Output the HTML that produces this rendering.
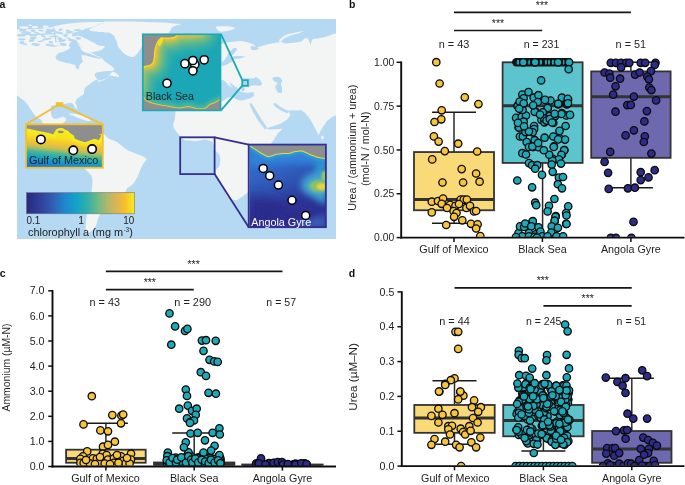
<!DOCTYPE html>
<html><head><meta charset="utf-8"><style>
html,body{margin:0;padding:0;background:#fff;}
svg{display:block;font-family:"Liberation Sans", sans-serif;}
text{opacity:0.995;}
</style></head><body>
<svg width="685" height="485" viewBox="0 0 685 485">
<defs><filter id="bl6" x="-50%" y="-50%" width="200%" height="200%"><feGaussianBlur stdDeviation="6"/></filter><filter id="bl3" x="-50%" y="-50%" width="200%" height="200%"><feGaussianBlur stdDeviation="3"/></filter><filter id="bl15" x="-50%" y="-50%" width="200%" height="200%"><feGaussianBlur stdDeviation="1.5"/></filter><filter id="bl08" x="-50%" y="-50%" width="200%" height="200%"><feGaussianBlur stdDeviation="0.8"/></filter><filter id="bl25" x="-50%" y="-50%" width="200%" height="200%"><feGaussianBlur stdDeviation="2.5"/></filter><filter id="bl2" x="-50%" y="-50%" width="200%" height="200%"><feGaussianBlur stdDeviation="2"/></filter><filter id="bl12" x="-50%" y="-50%" width="200%" height="200%"><feGaussianBlur stdDeviation="1.2"/></filter><filter id="bl05" x="-50%" y="-50%" width="200%" height="200%"><feGaussianBlur stdDeviation="0.5"/></filter><clipPath id="bsclip"><rect x="142.8" y="34.3" width="77.5" height="76"/></clipPath><linearGradient id="bsg" gradientUnits="userSpaceOnUse" x1="158.5" y1="51.5" x2="183.2" y2="76.2"><stop offset="0" stop-color="#F7DC20"/><stop offset="0.1" stop-color="#F6CF29"/><stop offset="0.2" stop-color="#EEC238"/><stop offset="0.32" stop-color="#C6BE57"/><stop offset="0.43" stop-color="#93BF6E"/><stop offset="0.6" stop-color="#52B494"/><stop offset="0.8" stop-color="#26A9B1"/><stop offset="1" stop-color="#1DA6B6"/></linearGradient><linearGradient id="gomg" gradientUnits="userSpaceOnUse" x1="62" y1="127" x2="57.5" y2="168.7"><stop offset="0" stop-color="#F7EA1C"/><stop offset="0.26" stop-color="#F6E21F"/><stop offset="0.38" stop-color="#F4C92B"/><stop offset="0.5" stop-color="#DABF45"/><stop offset="0.57" stop-color="#9FBE66"/><stop offset="0.63" stop-color="#5EB68D"/><stop offset="0.7" stop-color="#2FAEA8"/><stop offset="0.78" stop-color="#19A5C0"/><stop offset="0.87" stop-color="#1A8FCE"/><stop offset="1" stop-color="#2474CB"/></linearGradient><clipPath id="gomclip"><rect x="26" y="124.4" width="77" height="43.3"/></clipPath><linearGradient id="angg" x1="0" y1="0" x2="0.35" y2="1"><stop offset="0" stop-color="#3377D3"/><stop offset="0.35" stop-color="#3066C6"/><stop offset="0.6" stop-color="#2E50B0"/><stop offset="0.8" stop-color="#2D3597"/><stop offset="1" stop-color="#2C3092"/></linearGradient><clipPath id="angclip"><rect x="249.6" y="145.5" width="76.2" height="81.8"/></clipPath><linearGradient id="cbar" x1="0" y1="0" x2="1" y2="0"><stop offset="0" stop-color="#29287F"/><stop offset="0.13" stop-color="#30409C"/><stop offset="0.25" stop-color="#3160B4"/><stop offset="0.36" stop-color="#1E88CF"/><stop offset="0.47" stop-color="#12A4C6"/><stop offset="0.57" stop-color="#35B0A6"/><stop offset="0.66" stop-color="#6FBA86"/><stop offset="0.75" stop-color="#B0B86A"/><stop offset="0.83" stop-color="#DAB456"/><stop offset="0.91" stop-color="#F7BF2B"/><stop offset="1" stop-color="#F7EE18"/></linearGradient></defs>
<rect width="685" height="485" fill="#fff"/>
<text x="-0.60" y="7.70" font-size="10.5" fill="#111" text-anchor="start" font-weight="bold" >a</text>
<clipPath id="mapclip"><rect x="17" y="19" width="319" height="220"/></clipPath>
<g clip-path="url(#mapclip)">
<rect x="17" y="19" width="319" height="220" fill="#B5D9F3"/>
<path d="M17.0,45.0 L24.0,44.5 L32.0,45.5 L40.0,45.0 L48.0,46.0 L54.0,47.0 L58.0,46.0 L63.0,45.0 L68.0,44.0 L72.0,43.0 L76.0,43.5 L80.0,45.0 L82.0,48.0 L86.0,51.0 L92.0,53.0 L97.0,56.0 L101.5,57.0 L104.0,60.8 L109.2,64.5 L113.6,67.4 L114.3,69.6 L112.1,71.4 L110.0,73.0 L108.5,77.5 L104.0,80.0 L99.0,82.0 L96.8,79.6 L92.3,82.1 L89.8,84.2 L85.6,87.1 L84.0,90.4 L84.0,94.1 L80.7,96.2 L78.2,97.8 L76.2,99.9 L75.3,102.8 L77.0,106.5 L77.4,109.4 L74.9,107.8 L73.3,104.0 L70.8,102.8 L66.0,103.5 L63.0,104.5 L60.0,105.4 L54.0,105.2 L51.5,105.8 L50.6,109.0 L50.8,113.0 L52.0,117.0 L54.5,119.0 L58.0,118.5 L61.0,117.2 L63.2,116.4 L66.1,118.2 L65.5,121.0 L62.0,124.0 L57.0,126.0 L52.0,128.0 L48.0,130.0 L44.0,128.0 L41.3,120.0 L37.0,117.5 L34.0,114.2 L31.0,110.0 L27.0,106.0 L23.8,101.1 L20.5,98.0 L17.9,96.0 L17.0,95.5 Z" fill="#F3F4F4" />
<path d="M48.0,128.0 L55.0,126.0 L62.0,124.0 L70.0,130.0 L80.0,134.0 L90.0,133.0 L92.0,138.0 L86.0,140.0 L80.0,138.0 L72.0,135.0 L62.0,132.0 L52.0,131.0 Z" fill="#F3F4F4" />
<path d="M17.0,30.5 C18.3,27.8 22.0,29.8 25.0,29.5 C28.0,29.2 31.7,29.2 35.0,29.0 C38.3,28.8 42.0,28.6 45.0,28.2 C48.0,27.8 50.5,27.2 53.0,26.7 C55.5,26.2 57.2,25.5 60.0,25.0 C62.8,24.5 66.7,24.0 70.0,23.6 C73.3,23.2 76.3,22.9 80.0,22.6 C83.7,22.4 88.1,22.2 92.0,22.1 C95.9,22.1 102.2,22.0 103.5,22.3 C104.8,22.6 101.5,23.1 100.0,23.8 C98.5,24.5 96.7,25.7 94.4,26.5 C92.2,27.3 88.9,27.7 86.5,28.5 C84.1,29.3 81.9,30.4 80.0,31.1 C78.1,31.8 76.3,32.0 75.0,32.5 C73.7,33.0 72.3,33.2 72.0,34.0 C71.7,34.8 72.3,36.0 73.0,37.0 C73.7,38.0 75.5,38.8 76.0,40.0 C76.5,41.2 77.0,43.2 76.0,44.0 C75.0,44.8 76.0,44.7 70.0,45.0 C64.0,45.3 48.8,45.8 40.0,46.0 C31.2,46.2 20.8,48.6 17.0,46.0 C13.2,43.4 15.7,33.2 17.0,30.5 Z" fill="#F3F4F4" />
<ellipse cx="24" cy="27.6" rx="4.5" ry="1.3" fill="#F3F4F4"/>
<ellipse cx="35" cy="27.2" rx="3.2" ry="1.1" fill="#F3F4F4"/>
<ellipse cx="45.5" cy="26.6" rx="3" ry="1.2" fill="#F3F4F4"/>
<ellipse cx="30" cy="25.3" rx="2" ry="0.8" fill="#F3F4F4"/>
<path d="M76.0,35.0 C77.5,35.0 80.0,36.2 82.0,37.0 C84.0,37.8 85.8,38.7 87.9,39.7 C90.0,40.7 92.6,42.0 94.4,43.0 C96.2,44.0 97.3,44.9 99.0,45.5 C100.7,46.1 104.4,45.7 104.8,46.4 C105.2,47.1 103.0,48.9 101.5,49.7 C100.0,50.6 98.2,51.0 96.0,51.5 C93.8,52.0 90.5,52.8 88.3,52.5 C86.1,52.2 84.1,51.0 83.0,50.0 C81.9,49.0 82.3,47.7 81.5,46.5 C80.7,45.3 79.1,44.1 78.0,43.0 C76.9,41.9 75.8,41.0 75.0,40.0 C74.2,39.0 72.8,37.8 73.0,37.0 C73.2,36.2 74.5,35.0 76.0,35.0 Z" fill="#F3F4F4" />
<path d="M104.5,21.6 C106.3,21.4 110.8,21.4 115.0,21.4 C119.2,21.4 125.0,21.5 130.0,21.6 C135.0,21.7 139.4,21.8 145.0,22.0 C150.6,22.2 158.9,22.4 163.6,22.6 C168.3,22.9 170.1,23.2 173.0,23.5 C175.9,23.8 180.6,23.9 181.1,24.3 C181.6,24.7 177.5,25.1 176.0,25.6 C174.5,26.1 172.9,26.8 172.0,27.5 C171.1,28.2 171.2,29.2 170.5,30.1 C169.8,31.0 170.1,32.1 168.0,33.1 C165.9,34.1 161.0,34.9 158.0,36.0 C155.0,37.1 152.3,38.7 150.0,40.0 C147.7,41.3 145.5,42.7 144.0,44.0 C142.5,45.3 141.7,47.0 141.0,48.0 C140.3,49.0 140.5,49.3 139.8,50.3 C139.1,51.3 137.9,53.0 136.9,54.1 C135.9,55.2 134.8,56.5 133.6,56.9 C132.4,57.3 131.1,56.9 129.6,56.4 C128.1,55.9 126.1,55.0 124.7,54.0 C123.3,53.0 122.1,51.5 121.0,50.2 C119.9,49.0 118.5,47.7 117.9,46.5 C117.3,45.3 117.6,44.1 117.2,42.8 C116.8,41.5 115.9,39.9 115.4,38.8 C114.9,37.7 115.0,36.9 114.2,36.0 C113.4,35.1 112.0,33.8 110.5,33.2 C109.0,32.6 106.8,32.7 105.0,32.5 C103.2,32.3 102.0,32.3 99.7,32.1 C97.4,31.9 93.0,31.5 91.2,31.1 C89.5,30.7 88.9,30.1 89.2,29.5 C89.5,28.9 91.6,28.0 93.0,27.3 C94.4,26.6 96.3,25.8 97.7,25.2 C99.1,24.6 100.4,23.9 101.5,23.5 C102.6,23.1 103.8,22.9 104.3,22.6 C104.8,22.3 102.7,21.8 104.5,21.6 Z" fill="#F3F4F4" />
<path d="M92.0,133.0 C93.8,131.5 96.2,133.1 98.0,133.2 C99.8,133.3 101.2,132.6 103.0,133.5 C104.8,134.4 106.8,137.5 109.0,138.8 C111.2,140.2 114.0,140.4 116.2,141.6 C118.4,142.8 120.0,144.6 121.9,146.0 C123.8,147.4 125.5,149.1 127.7,150.3 C129.9,151.5 132.8,152.4 134.9,153.2 C137.0,154.0 138.6,154.4 140.0,155.0 C141.4,155.6 142.5,156.1 143.6,156.8 C144.7,157.5 146.2,158.3 146.5,159.0 C146.8,159.7 146.0,160.3 145.5,161.0 C145.0,161.7 144.4,162.0 143.6,163.3 C142.8,164.6 141.7,166.8 140.7,169.0 C139.7,171.2 138.8,174.3 137.8,176.3 C136.9,178.3 135.7,179.8 135.0,181.0 C134.3,182.2 134.2,182.7 133.5,183.5 C132.8,184.3 131.7,185.2 130.6,186.0 C129.5,186.8 127.8,187.5 127.0,188.5 C126.2,189.5 126.3,190.4 125.5,192.0 C124.7,193.6 123.8,196.2 122.0,198.0 C120.2,199.8 117.0,201.5 115.0,203.0 C113.0,204.5 111.8,205.7 110.0,207.0 C108.2,208.3 105.6,209.8 104.0,211.0 C102.4,212.2 101.5,212.7 100.5,214.0 C99.5,215.3 98.7,217.2 98.0,219.0 C97.3,220.8 97.0,223.3 96.3,225.0 C95.5,226.7 94.5,227.8 93.5,229.0 C92.5,230.2 91.0,231.3 90.0,232.0 C89.0,232.7 88.2,233.3 87.5,233.0 C86.8,232.7 86.1,231.3 85.8,230.0 C85.5,228.7 85.6,227.7 85.8,225.0 C86.0,222.3 86.4,217.3 87.0,214.0 C87.6,210.7 88.7,209.0 89.5,205.0 C90.3,201.0 91.2,193.8 91.7,190.0 C92.2,186.2 92.4,184.3 92.4,182.0 C92.4,179.7 92.3,178.0 91.6,176.3 C90.9,174.6 89.2,173.4 88.0,172.0 C86.8,170.6 85.4,170.0 84.4,168.0 C83.4,166.0 82.1,163.0 82.0,160.0 C81.9,157.0 83.2,153.0 84.0,150.0 C84.8,147.0 85.7,144.8 87.0,142.0 C88.3,139.2 90.2,134.5 92.0,133.0 Z" fill="#F3F4F4" />
<path d="M168.0,33.1 L190.0,36.0 L210.0,40.0 L221.0,43.9 L229.7,42.1 L235.0,41.5 L241.4,41.0 L246.0,42.0 L250.7,43.3 L254.0,45.0 L256.5,47.4 L258.5,47.0 L261.2,46.2 L267.0,44.4 L272.9,43.3 L281.0,42.1 L286.0,43.5 L291.3,43.1 L296.0,42.5 L301.5,41.4 L304.0,39.0 L307.2,37.4 L309.0,41.0 L310.6,45.4 L311.5,41.0 L312.9,39.1 L318.0,38.5 L323.1,37.4 L328.0,36.0 L333.3,34.0 L336.0,33.4 L337.0,33.4 L337.0,115.4 L336.0,115.4 L332.0,116.9 L327.0,121.0 L323.2,126.4 L320.5,131.0 L318.8,135.1 L316.5,131.0 L313.0,124.2 L310.0,119.0 L307.2,115.4 L304.0,112.0 L301.3,110.3 L296.0,110.6 L291.1,110.3 L289.0,111.5 L290.4,115.4 L286.7,119.8 L280.9,123.5 L273.0,126.2 L265.5,128.6 L270.0,129.5 L276.0,129.3 L282.3,128.8 L280.0,131.5 L278.0,133.0 L275.5,137.0 L273.6,140.3 L270.0,145.0 L262.0,150.0 L255.0,160.0 L250.0,175.0 L249.0,190.0 L247.4,192.7 L242.0,197.0 L236.6,200.3 L231.2,199.2 L226.9,194.9 L221.5,184.0 L218.0,179.0 L215.5,174.0 L216.0,170.0 L219.5,166.0 L220.4,160.0 L219.5,155.0 L217.0,152.0 L213.8,149.6 L213.5,145.0 L212.0,141.5 L209.0,140.5 L205.0,139.6 L200.0,140.6 L195.0,141.2 L190.0,140.4 L185.0,140.2 L182.0,138.0 L180.0,136.0 L178.8,134.4 L176.0,131.5 L174.9,129.8 L173.5,127.0 L173.1,125.2 L173.8,122.0 L174.9,118.7 L175.5,111.0 L170.0,105.0 L160.0,95.0 L145.0,75.0 L142.0,60.0 L150.0,45.0 Z" fill="#F3F4F4" />
<path d="M279.0,40.5 C279.2,39.8 280.9,38.4 282.0,37.5 C283.1,36.6 284.4,35.7 285.7,35.1 C287.0,34.5 288.7,34.2 290.0,33.8 C291.3,33.4 292.3,33.2 293.6,32.9 C294.9,32.6 296.3,32.3 298.0,32.0 C299.7,31.7 303.5,31.1 303.8,31.2 C304.1,31.3 301.6,32.2 300.0,32.8 C298.4,33.4 296.0,34.0 294.0,34.6 C292.0,35.2 289.8,35.9 288.0,36.6 C286.2,37.3 284.8,38.1 283.5,39.0 C282.2,39.9 281.2,41.8 280.5,42.0 C279.8,42.2 278.8,41.2 279.0,40.5 Z" fill="#F3F4F4" />
<path d="M216.0,27.0 C216.3,26.1 219.7,26.3 222.0,26.2 C224.3,26.1 227.8,26.3 230.0,26.6 C232.2,26.9 235.3,27.5 235.0,28.2 C234.7,28.9 230.5,30.3 228.0,30.8 C225.5,31.3 222.0,32.0 220.0,31.4 C218.0,30.8 215.7,27.9 216.0,27.0 Z" fill="#F3F4F4" />
<path d="M321.5,136.0 C321.8,135.6 323.2,136.0 323.5,136.5 C323.8,137.0 323.8,138.6 323.5,139.0 C323.2,139.4 321.8,139.5 321.5,139.0 C321.2,138.5 321.2,136.4 321.5,136.0 Z" fill="#F3F4F4" />
<path d="M55.5,56.3 L58.8,53.0 L64.2,51.4 L68.6,49.2 L71.9,46.4 L76.5,45.0 L79.5,45.8 L80.5,48.5 L82.8,51.4 L88.0,53.3 L93.8,55.2 L99.3,57.4 L101.5,56.0 L102.5,58.0 L99.0,58.8 L93.0,57.5 L86.0,55.4 L81.5,55.0 L81.8,58.5 L82.8,61.8 L79.6,65.0 L78.5,69.4 L76.3,68.6 L75.2,65.0 L70.0,63.5 L66.4,62.9 L59.9,61.2 L56.0,59.0 Z" fill="#B5D9F3" />
<path d="M69.0,45.0 C69.1,44.1 70.1,42.7 71.0,42.0 C71.9,41.3 73.4,40.8 74.5,41.0 C75.6,41.2 76.8,42.2 77.5,43.0 C78.2,43.8 78.6,45.1 78.5,46.0 C78.4,46.9 77.8,48.0 77.0,48.5 C76.2,49.0 74.6,49.2 73.5,49.0 C72.4,48.8 71.2,48.2 70.5,47.5 C69.8,46.8 68.9,45.9 69.0,45.0 Z" fill="#B5D9F3" />
<path d="M96.8,72.5 C98.2,71.9 101.1,71.8 103.0,71.5 C104.9,71.2 106.5,71.0 108.0,71.0 C109.5,71.0 111.8,70.9 112.1,71.4 C112.4,71.9 110.7,73.0 110.0,74.0 C109.3,75.0 109.2,76.6 108.0,77.5 C106.8,78.4 104.5,79.0 103.0,79.5 C101.5,80.0 100.1,80.8 99.0,80.5 C97.9,80.2 97.2,78.9 96.5,78.0 C95.8,77.1 94.5,75.9 94.5,75.0 C94.5,74.1 95.4,73.1 96.8,72.5 Z" fill="#B5D9F3" />
<path d="M21.0,99.0 L23.8,100.3 L28.0,105.0 L32.5,112.7 L31.5,113.2 L26.5,106.5 L22.5,101.5 Z" fill="#B5D9F3" />
<path d="M233.5,48.3 C234.6,47.9 236.8,48.1 237.0,48.8 C237.2,49.5 236.0,51.3 235.0,52.5 C234.0,53.7 232.2,55.2 231.0,56.0 C229.8,56.8 228.1,57.8 227.5,57.5 C226.9,57.2 227.0,55.6 227.5,54.5 C228.0,53.4 229.5,52.0 230.5,51.0 C231.5,50.0 232.4,48.7 233.5,48.3 Z" fill="#B5D9F3" />
<path d="M233.0,56.5 C233.8,56.0 237.0,56.0 239.0,56.0 C241.0,56.0 244.8,56.4 245.0,56.8 C245.2,57.2 241.8,58.1 240.0,58.4 C238.2,58.7 235.2,59.1 234.0,58.8 C232.8,58.5 232.2,57.0 233.0,56.5 Z" fill="#B5D9F3" />
<path d="M227.0,56.5 C228.0,56.2 229.8,57.2 231.0,57.5 C232.2,57.8 234.2,57.9 234.5,58.5 C234.8,59.1 233.8,60.2 233.0,61.0 C232.2,61.8 230.9,62.2 229.5,63.0 C228.1,63.8 225.8,65.1 224.5,65.5 C223.2,65.9 221.9,66.0 221.5,65.5 C221.1,65.0 221.4,63.5 222.0,62.5 C222.6,61.5 224.2,60.5 225.0,59.5 C225.8,58.5 226.0,56.8 227.0,56.5 Z" fill="#B5D9F3" />
<path d="M250.7,46.5 C251.2,46.0 253.6,46.3 255.0,46.6 C256.4,46.9 258.7,47.9 258.9,48.5 C259.1,49.1 257.1,49.8 256.0,50.0 C254.8,50.2 252.9,50.3 252.0,49.7 C251.1,49.1 250.2,47.0 250.7,46.5 Z" fill="#B5D9F3" />
<path d="M242.0,79.0 C243.1,77.7 247.5,78.4 249.3,78.3 C251.1,78.2 251.7,78.6 253.0,78.5 C254.3,78.4 255.7,76.8 257.2,77.5 C258.7,78.2 261.4,81.6 261.9,83.0 C262.4,84.4 261.7,85.3 260.3,85.7 C258.9,86.1 255.1,85.2 253.3,85.3 C251.5,85.4 251.0,86.4 249.3,86.5 C247.6,86.6 244.2,87.2 243.0,86.0 C241.8,84.8 240.9,80.3 242.0,79.0 Z" fill="#B5D9F3" />
<path d="M272.5,78.0 C272.8,77.3 274.8,77.0 276.0,76.9 C277.2,76.8 279.0,76.8 280.0,77.5 C281.0,78.2 282.0,79.9 282.2,81.0 C282.4,82.1 281.0,82.8 281.0,84.0 C281.0,85.2 281.9,86.5 282.0,88.0 C282.1,89.5 282.2,92.0 281.5,92.7 C280.8,93.5 278.9,93.1 278.0,92.5 C277.1,91.9 276.4,90.1 276.0,89.0 C275.6,87.9 275.2,87.0 275.5,86.0 C275.8,85.0 277.8,83.8 277.5,83.0 C277.2,82.2 274.8,81.8 274.0,81.0 C273.2,80.2 272.2,78.7 272.5,78.0 Z" fill="#B5D9F3" />
<path d="M221.0,81.0 C221.8,78.0 224.5,81.4 225.8,82.2 C227.1,83.0 227.7,84.8 229.0,85.7 C230.3,86.6 232.4,87.4 233.7,87.7 C235.0,88.0 236.0,86.9 236.8,87.3 C237.6,87.7 237.6,89.2 238.4,90.0 C239.2,90.8 239.9,91.5 241.5,92.0 C243.1,92.5 245.8,92.7 247.8,92.8 C249.8,92.9 252.3,92.0 253.3,92.4 C254.3,92.9 254.4,94.6 254.0,95.5 C253.6,96.4 252.3,97.2 250.9,97.9 C249.5,98.6 247.1,99.0 245.4,99.4 C243.7,99.9 242.3,100.7 240.7,100.6 C239.1,100.5 237.6,99.6 236.0,99.0 C234.4,98.4 232.7,97.3 231.3,97.1 C229.9,96.9 228.7,97.4 227.4,97.9 C226.1,98.4 224.6,99.9 223.5,100.2 C222.4,100.5 221.4,103.2 221.0,100.0 C220.6,96.8 220.2,84.0 221.0,81.0 Z" fill="#B5D9F3" />
<path d="M230.0,82.5 L234.0,85.5 L236.5,88.0 L234.0,88.5 L230.5,85.5 Z" fill="#B5D9F3" />
<path d="M241.0,86.0 C241.3,85.2 243.4,85.8 244.0,86.5 C244.6,87.2 244.8,89.2 244.5,90.0 C244.2,90.8 242.6,91.7 242.0,91.0 C241.4,90.3 240.7,86.8 241.0,86.0 Z" fill="#B5D9F3" />
<path d="M249.2,103.6 L251.6,103.2 L255.8,110.0 L261.0,118.5 L267.0,127.5 L265.0,129.5 L258.0,120.5 L252.8,111.5 Z" fill="#B5D9F3" />
<path d="M273.0,103.5 L276.0,103.2 L280.0,106.5 L285.3,109.5 L290.0,111.0 L287.5,113.2 L284.0,112.0 L279.0,109.5 L275.0,106.5 Z" fill="#B5D9F3" />
<ellipse cx="22.5" cy="30.2" rx="3.7" ry="1.4" transform="rotate(-1 22.5 30.2)" fill="#B5D9F3"/>
<ellipse cx="33.1" cy="30.7" rx="2.6" ry="1.2" transform="rotate(4 33.1 30.7)" fill="#B5D9F3"/>
<ellipse cx="40.9" cy="30.5" rx="2.9" ry="0.9" transform="rotate(9 40.9 30.5)" fill="#B5D9F3"/>
<ellipse cx="50.9" cy="30.4" rx="4.9" ry="1.5" transform="rotate(5 50.9 30.4)" fill="#B5D9F3"/>
<ellipse cx="60.6" cy="29.7" rx="2.0" ry="1.2" transform="rotate(-13 60.6 29.7)" fill="#B5D9F3"/>
<ellipse cx="67.7" cy="30.7" rx="2.1" ry="1.1" transform="rotate(-2 67.7 30.7)" fill="#B5D9F3"/>
<ellipse cx="77.7" cy="30.1" rx="3.9" ry="1.1" transform="rotate(5 77.7 30.1)" fill="#B5D9F3"/>
<ellipse cx="26.0" cy="32.7" rx="5.0" ry="1.4" transform="rotate(6 26.0 32.7)" fill="#B5D9F3"/>
<ellipse cx="36.8" cy="32.8" rx="2.9" ry="0.8" transform="rotate(8 36.8 32.8)" fill="#B5D9F3"/>
<ellipse cx="48.2" cy="32.2" rx="3.2" ry="1.5" transform="rotate(10 48.2 32.2)" fill="#B5D9F3"/>
<ellipse cx="58.9" cy="32.8" rx="4.7" ry="1.1" transform="rotate(14 58.9 32.8)" fill="#B5D9F3"/>
<ellipse cx="69.8" cy="32.3" rx="3.9" ry="1.3" transform="rotate(-7 69.8 32.3)" fill="#B5D9F3"/>
<ellipse cx="81.9" cy="32.6" rx="4.9" ry="1.3" transform="rotate(-11 81.9 32.6)" fill="#B5D9F3"/>
<ellipse cx="21.6" cy="35.7" rx="4.4" ry="0.9" transform="rotate(2 21.6 35.7)" fill="#B5D9F3"/>
<ellipse cx="33.0" cy="35.2" rx="4.2" ry="0.9" transform="rotate(4 33.0 35.2)" fill="#B5D9F3"/>
<ellipse cx="43.5" cy="36.3" rx="2.6" ry="1.0" transform="rotate(14 43.5 36.3)" fill="#B5D9F3"/>
<ellipse cx="54.0" cy="36.4" rx="4.7" ry="0.9" transform="rotate(-3 54.0 36.4)" fill="#B5D9F3"/>
<ellipse cx="65.5" cy="35.4" rx="2.3" ry="1.5" transform="rotate(-9 65.5 35.4)" fill="#B5D9F3"/>
<ellipse cx="75.9" cy="35.1" rx="3.0" ry="1.0" transform="rotate(-13 75.9 35.1)" fill="#B5D9F3"/>
<ellipse cx="21.8" cy="39.3" rx="3.8" ry="1.1" transform="rotate(-1 21.8 39.3)" fill="#B5D9F3"/>
<ellipse cx="33.2" cy="38.0" rx="3.7" ry="1.4" transform="rotate(-10 33.2 38.0)" fill="#B5D9F3"/>
<ellipse cx="47.0" cy="39.0" rx="4.5" ry="1.0" transform="rotate(-9 47.0 39.0)" fill="#B5D9F3"/>
<ellipse cx="59.9" cy="38.8" rx="2.6" ry="1.5" transform="rotate(11 59.9 38.8)" fill="#B5D9F3"/>
<ellipse cx="68.4" cy="38.2" rx="2.3" ry="0.8" transform="rotate(14 68.4 38.2)" fill="#B5D9F3"/>
<ellipse cx="78.3" cy="38.3" rx="2.8" ry="1.4" transform="rotate(3 78.3 38.3)" fill="#B5D9F3"/>
<ellipse cx="22.1" cy="42.0" rx="2.2" ry="1.0" transform="rotate(2 22.1 42.0)" fill="#B5D9F3"/>
<ellipse cx="31.6" cy="40.6" rx="2.8" ry="1.4" transform="rotate(-9 31.6 40.6)" fill="#B5D9F3"/>
<ellipse cx="40.8" cy="41.2" rx="3.3" ry="0.8" transform="rotate(-10 40.8 41.2)" fill="#B5D9F3"/>
<ellipse cx="50.9" cy="42.2" rx="2.4" ry="1.1" transform="rotate(12 50.9 42.2)" fill="#B5D9F3"/>
<ellipse cx="62.0" cy="40.7" rx="4.1" ry="1.2" transform="rotate(-11 62.0 40.7)" fill="#B5D9F3"/>
<ellipse cx="72.8" cy="40.6" rx="4.7" ry="1.3" transform="rotate(14 72.8 40.6)" fill="#B5D9F3"/>
<ellipse cx="23.1" cy="43.6" rx="4.2" ry="1.0" transform="rotate(15 23.1 43.6)" fill="#B5D9F3"/>
<ellipse cx="35.7" cy="44.6" rx="4.2" ry="1.4" transform="rotate(7 35.7 44.6)" fill="#B5D9F3"/>
<ellipse cx="49.8" cy="44.9" rx="4.7" ry="1.0" transform="rotate(6 49.8 44.9)" fill="#B5D9F3"/>
<ellipse cx="63.3" cy="44.4" rx="3.3" ry="1.4" transform="rotate(11 63.3 44.4)" fill="#B5D9F3"/>
<ellipse cx="74.2" cy="43.6" rx="3.1" ry="1.2" transform="rotate(3 74.2 43.6)" fill="#B5D9F3"/>
<path d="M17,34.8 L25,34.2 L35,34.6 L45,34 L55,33.5" fill="none" stroke="#B5D9F3" stroke-width="1.3" stroke-linejoin="round" stroke-linecap="round"/>
<path d="M53,27.5 L55,31 L54.5,34 L55.5,38 L56,42" fill="none" stroke="#B5D9F3" stroke-width="1.4" stroke-linejoin="round" stroke-linecap="round"/>
<path d="M109.9,75.4 C109.5,74.7 111.5,71.9 112.8,71.8 C114.1,71.7 117.0,73.8 118.0,74.7 C119.0,75.6 119.5,76.7 119.0,76.9 C118.5,77.2 116.5,76.5 115.0,76.2 C113.5,76.0 110.3,76.1 109.9,75.4 Z" fill="#F3F4F4" />
<path d="M70.5,113.5 C71.8,113.4 75.6,113.9 78.0,114.5 C80.4,115.1 82.8,116.0 85.0,117.0 C87.2,118.0 90.4,119.5 90.9,120.2 C91.4,120.9 89.7,121.2 88.0,121.0 C86.3,120.8 83.3,119.8 81.0,119.0 C78.7,118.2 75.8,116.7 74.0,116.0 C72.2,115.3 70.6,115.4 70.0,115.0 C69.4,114.6 69.2,113.6 70.5,113.5 Z" fill="#F3F4F4" />
</g>
<line x1="221.00" y1="34.20" x2="242.30" y2="80.20" stroke="#1BAAB6" stroke-width="1.8" stroke-linecap="butt"/>
<line x1="221.00" y1="110.30" x2="242.30" y2="85.60" stroke="#1BAAB6" stroke-width="1.8" stroke-linecap="butt"/>
<rect x="242.3" y="80.2" width="5.6" height="5.6" fill="#B5D9F3" stroke="#1BAAB6" stroke-width="1.8"/>
<line x1="26.00" y1="124.30" x2="57.30" y2="105.60" stroke="#F2BF2E" stroke-width="1.8" stroke-linecap="butt"/>
<line x1="102.80" y1="124.30" x2="62.60" y2="105.60" stroke="#F2BF2E" stroke-width="1.8" stroke-linecap="butt"/>
<rect x="55.8" y="102.2" width="7.6" height="4.6" fill="#F2BF2E"/>
<rect x="180.2" y="137.3" width="34.4" height="36.8" fill="none" stroke="#362F8D" stroke-width="1.8"/>
<line x1="214.60" y1="137.30" x2="248.70" y2="144.60" stroke="#362F8D" stroke-width="1.8" stroke-linecap="butt"/>
<line x1="214.60" y1="174.10" x2="248.70" y2="227.20" stroke="#362F8D" stroke-width="1.8" stroke-linecap="butt"/>
<g clip-path="url(#bsclip)">
<rect x="142" y="33.5" width="79.3" height="77.7" fill="#1BA7B6"/>
<path d="M111.0,43.3 L107.0,46.1 L103.7,50.2 L101.7,54.9 L101.0,60.0 L101.0,98.0 L101.6,102.9 L103.5,107.5 L106.6,111.4 L110.5,114.5 L115.1,116.4 L120.0,117.0 L136.0,117.0 L140.5,116.5 L144.8,114.8 L148.6,112.2 L151.6,108.8 L153.7,104.8 L154.9,100.4 L155.8,92.6 L157.3,82.8 L157.4,82.1 L160.4,80.7 L163.9,77.9 L165.9,75.9 L168.7,72.4 L170.6,68.3 L171.4,65.8 L172.1,62.5 L172.5,59.5 L172.6,58.4 L172.8,56.3 L173.5,56.3 L177.8,55.5 L182.9,53.7 L184.7,52.4 L190.8,52.2 L192.4,52.0 L203.4,50.6 L208.2,49.4 L212.5,46.9 L216.0,43.5 L218.5,39.2 L223.5,27.4 L224.8,22.9 L224.9,18.3 L223.9,13.7 L221.8,9.5 L218.8,6.0 L215.0,3.3 L210.6,1.6 L206.0,1.0 L130.0,1.0 L125.1,1.6 L120.5,3.5 L116.6,6.6 L113.5,10.5 L111.6,15.1 L111.0,20.0 L111.0,43.3 Z " fill="#2FADAA" filter="url(#bl25)"/>
<path d="M116.0,46.7 L113.5,47.6 L110.4,49.8 L108.0,52.7 L106.5,56.2 L106.0,60.0 L106.0,98.0 L106.5,101.6 L107.9,105.0 L110.1,107.9 L113.0,110.1 L116.4,111.5 L120.0,112.0 L136.0,112.0 L139.3,111.6 L142.5,110.4 L145.3,108.5 L147.5,106.0 L149.1,103.0 L149.9,99.7 L150.9,91.9 L152.3,82.1 L152.5,81.1 L152.7,78.5 L154.8,77.8 L157.8,76.5 L160.4,74.4 L162.4,72.4 L164.5,69.8 L165.8,66.8 L166.6,64.3 L167.2,61.9 L167.6,58.9 L167.7,58.0 L167.9,54.2 L168.1,52.3 L168.3,51.6 L170.0,51.6 L172.6,51.4 L176.9,50.6 L180.6,49.3 L183.2,47.5 L190.6,47.2 L191.8,47.1 L202.8,45.7 L206.3,44.8 L209.5,43.0 L212.0,40.4 L213.9,37.3 L218.9,25.5 L219.8,22.2 L219.9,18.7 L219.2,15.4 L217.7,12.3 L215.4,9.7 L212.6,7.7 L209.4,6.4 L206.0,6.0 L130.0,6.0 L126.4,6.5 L123.0,7.9 L120.1,10.1 L117.9,13.0 L116.5,16.4 L116.0,20.0 L116.0,46.7 Z " fill="#4DB496" filter="url(#bl2)"/>
<path d="M120.5,50.5 L118.0,50.7 L115.6,51.6 L113.5,53.1 L111.9,55.1 L110.9,57.4 L110.5,60.0 L110.5,98.0 L110.8,100.5 L111.8,102.8 L113.3,104.7 L115.2,106.2 L117.5,107.2 L120.0,107.5 L136.0,107.5 L138.3,107.2 L140.4,106.4 L142.3,105.1 L143.8,103.4 L144.9,101.4 L145.4,99.2 L146.4,91.3 L147.9,81.4 L148.0,80.7 L148.4,74.9 L149.6,74.7 L150.9,74.3 L153.4,73.5 L155.4,72.6 L157.2,71.2 L159.2,69.2 L160.6,67.4 L161.5,65.4 L162.3,62.9 L162.7,61.3 L163.1,58.3 L163.2,57.7 L163.5,53.8 L163.7,51.6 L164.2,49.6 L164.8,47.6 L165.1,47.1 L170.0,47.1 L171.7,46.9 L176.0,46.1 L178.6,45.3 L180.8,43.7 L181.5,43.1 L190.4,42.7 L191.2,42.6 L202.2,41.2 L204.6,40.6 L206.7,39.4 L208.5,37.6 L209.7,35.5 L214.7,23.7 L215.4,21.5 L215.5,19.1 L215.0,16.8 L213.9,14.8 L212.4,13.0 L210.5,11.6 L208.3,10.8 L206.0,10.5 L130.0,10.5 L127.5,10.8 L125.2,11.8 L123.3,13.3 L121.8,15.2 L120.8,17.5 L120.5,20.0 L120.5,50.5 Z " fill="#80BD78" filter="url(#bl2)"/>
<path d="M130.0,14.5 L128.6,14.7 L127.2,15.2 L126.1,16.1 L125.2,17.2 L124.7,18.6 L124.5,20.0 L124.5,55.7 L121.8,54.8 L120.3,54.5 L118.9,54.6 L117.5,55.1 L116.2,56.0 L115.3,57.2 L114.7,58.5 L114.5,60.0 L114.5,98.0 L114.7,99.4 L115.2,100.8 L116.1,101.9 L117.2,102.8 L118.6,103.3 L120.0,103.5 L136.0,103.5 L137.3,103.3 L138.6,102.9 L139.6,102.1 L140.5,101.1 L141.1,100.0 L141.5,98.7 L142.4,90.7 L143.9,80.8 L144.0,80.4 L144.6,71.7 L146.3,71.2 L148.9,70.7 L149.7,70.5 L152.2,69.7 L153.4,69.2 L154.4,68.4 L156.4,66.4 L157.2,65.4 L157.7,64.2 L158.5,61.7 L158.8,60.7 L159.2,57.7 L159.2,57.4 L159.5,53.5 L159.7,50.9 L160.3,48.5 L161.1,46.1 L162.2,44.0 L162.9,43.1 L163.0,43.1 L170.0,43.1 L171.0,43.0 L175.3,42.2 L176.8,41.7 L178.1,40.8 L179.8,39.2 L179.8,39.1 L190.2,38.7 L190.7,38.7 L201.7,37.3 L203.1,36.9 L204.3,36.2 L205.3,35.2 L206.1,33.9 L211.1,22.1 L211.4,20.8 L211.5,19.5 L211.2,18.2 L210.6,17.0 L209.7,15.9 L208.6,15.2 L207.3,14.7 L206.0,14.5 L130.0,14.5 Z " fill="#B9BF58" filter="url(#bl15)"/>
<path d="M130.0,17.0 L129.2,17.1 L128.5,17.4 L127.9,17.9 L127.4,18.5 L127.1,19.2 L127.0,20.0 L127.0,59.3 L121.0,57.2 L120.2,57.0 L119.4,57.1 L118.6,57.3 L117.9,57.8 L117.4,58.4 L117.1,59.2 L117.0,60.0 L117.0,98.0 L117.1,98.8 L117.4,99.5 L117.9,100.1 L118.5,100.6 L119.2,100.9 L120.0,101.0 L136.0,101.0 L136.7,100.9 L137.4,100.7 L138.0,100.2 L138.5,99.7 L138.8,99.1 L139.0,98.4 L140.0,90.4 L141.5,80.4 L141.5,80.2 L142.3,69.8 L142.9,69.6 L145.7,68.7 L148.5,68.3 L148.9,68.2 L151.4,67.4 L152.1,67.1 L152.6,66.6 L154.6,64.6 L155.1,64.1 L155.4,63.4 L156.2,60.9 L156.3,60.4 L156.7,57.4 L156.7,57.2 L157.0,53.3 L157.3,50.5 L157.9,47.8 L158.8,45.2 L160.0,42.6 L161.7,40.6 L161.9,40.4 L162.0,40.4 L163.0,40.6 L170.0,40.6 L170.5,40.5 L174.8,39.7 L175.7,39.5 L176.4,39.0 L178.1,37.4 L178.6,36.8 L178.6,36.7 L190.1,36.2 L190.4,36.2 L201.4,34.8 L202.1,34.6 L202.8,34.2 L203.4,33.6 L203.8,33.0 L208.8,21.2 L209.0,20.5 L209.0,19.7 L208.8,19.0 L208.5,18.3 L208.0,17.8 L207.4,17.4 L206.7,17.1 L206.0,17.0 L130.0,17.0 Z " fill="#E5BE40" filter="url(#bl12)"/>
<path d="M130.0,18.6 L129.6,18.6 L129.3,18.8 L129.0,19.0 L128.8,19.3 L128.6,19.6 L128.6,20.0 L128.6,61.5 L120.5,58.7 L120.1,58.6 L119.7,58.6 L119.4,58.8 L119.0,59.0 L118.8,59.3 L118.7,59.6 L118.6,60.0 L118.6,98.0 L118.6,98.4 L118.8,98.7 L119.0,99.0 L119.3,99.2 L119.6,99.4 L120.0,99.4 L136.0,99.4 L136.3,99.4 L136.6,99.2 L136.9,99.0 L137.2,98.8 L137.3,98.5 L137.4,98.2 L138.4,90.2 L139.9,80.2 L139.9,80.1 L140.8,68.2 L142.0,68.2 L142.4,68.1 L145.3,67.2 L148.2,66.7 L148.4,66.6 L150.9,65.8 L151.2,65.7 L151.5,65.5 L153.5,63.5 L153.7,63.2 L153.8,62.9 L154.6,60.4 L154.7,60.2 L155.1,57.2 L155.1,57.1 L155.4,53.1 L155.7,50.2 L156.3,47.4 L157.3,44.5 L158.7,41.8 L160.5,39.5 L161.6,38.6 L162.5,38.9 L163.0,39.0 L170.0,39.0 L170.3,39.0 L174.6,38.2 L174.9,38.0 L175.3,37.8 L177.0,36.2 L177.2,35.9 L177.3,35.6 L177.4,35.2 L177.4,35.1 L190.1,34.6 L190.2,34.6 L201.2,33.2 L201.5,33.1 L201.8,32.9 L202.1,32.7 L202.3,32.3 L207.3,20.5 L207.4,20.2 L207.4,19.9 L207.3,19.5 L207.2,19.2 L206.9,19.0 L206.7,18.8 L206.3,18.6 L206.0,18.6 L130.0,18.6 Z " fill="#F2D52B" filter="url(#bl05)"/>
<path d="M176,35.2 L174.3,36.8 L170,37.6 L163,37.6 L161.3,37 L159.5,38.5 L157.5,41 L156,44 L155,47 L154.3,50 L154,53 L153.7,57 L153.3,60 L152.5,62.5 L150.5,64.5 L148,65.3 L145,65.8 L142,66.8" fill="none" stroke="#F6DC24" stroke-width="1.4" filter="url(#bl05)"/>
<path d="M142,95.3 L144,96.1 L145,98.1 L148,99.8 L152,101.3 L157,102.5 L162,103.6 L166,104.1 L170,104.8 L175,105.7 L180,106.3 L185,105.3 L188,104.8 L192,105.6 L196,106.8 L200,107.1 L204,106.8 L207,105.8 L208.5,103.8 L211,102.3 L214,101.3 L217,99.8 L219,98.3 L221.5,96.8" fill="none" stroke="#4CB49A" stroke-width="4.5" filter="url(#bl15)"/>
<path d="M142,97.5 L144,98.3 L145,100.3 L148,102 L152,103.5 L157,104.7 L162,105.8 L166,106.3 L170,107 L175,107.9 L180,108.5 L185,107.5 L188,107 L192,107.8 L196,109 L200,109.3 L204,109 L207,108 L208.5,106 L211,104.5 L214,103.5 L217,102 L219,100.5 L221.5,99" fill="none" stroke="#EBC93A" stroke-width="2" filter="url(#bl05)"/>
<path d="M158.0,37.0 C158.5,35.8 160.2,36.2 161.0,36.5 C161.8,36.8 162.8,37.9 163.0,39.0 C163.2,40.1 162.5,41.8 162.0,43.0 C161.5,44.2 160.7,45.8 160.0,46.0 C159.3,46.2 158.3,45.5 158.0,44.0 C157.7,42.5 157.5,38.2 158.0,37.0 Z" fill="#F4DD22" />
<path d="M142.0,33.5 L176.0,33.5 L176.0,35.2 L174.3,36.8 L170.0,37.6 L163.0,37.6 L161.3,37.0 L159.5,38.5 L157.5,41.0 L156.0,44.0 L155.0,47.0 L154.3,50.0 L154.0,53.0 L153.7,57.0 L153.3,60.0 L152.5,62.5 L150.5,64.5 L148.0,65.3 L145.0,65.8 L142.0,66.8 L142.0,67.0 Z" fill="#8E8E8E" />
<path d="M142.0,97.5 L144.0,98.3 L145.0,100.3 L148.0,102.0 L152.0,103.5 L157.0,104.7 L162.0,105.8 L166.0,106.3 L170.0,107.0 L175.0,107.9 L180.0,108.5 L185.0,107.5 L188.0,107.0 L192.0,107.8 L196.0,109.0 L200.0,109.3 L204.0,109.0 L207.0,108.0 L208.5,106.0 L211.0,104.5 L214.0,103.5 L217.0,102.0 L219.0,100.5 L221.5,99.0 L221.5,112.0 L142.0,112.0 Z" fill="#8E8E8E" />
</g>
<circle cx="194.80" cy="64.50" r="4.1" fill="white" stroke="#000" stroke-width="1.5"/>
<circle cx="184.90" cy="63.70" r="4.1" fill="white" stroke="#000" stroke-width="1.5"/>
<circle cx="192.90" cy="60.50" r="4.1" fill="white" stroke="#000" stroke-width="1.5"/>
<circle cx="204.20" cy="59.80" r="4.1" fill="white" stroke="#000" stroke-width="1.5"/>
<circle cx="192.90" cy="70.80" r="4.1" fill="white" stroke="#000" stroke-width="1.5"/>
<circle cx="167.00" cy="83.30" r="4.1" fill="white" stroke="#000" stroke-width="1.5"/>
<text x="145.80" y="99.60" font-size="10.5" fill="#242424" text-anchor="start" textLength="48.2" lengthAdjust="spacingAndGlyphs" >Black Sea</text>
<rect x="142.8" y="34.3" width="77.7" height="76.1" fill="none" stroke="#1BAAB6" stroke-width="1.7"/>
<g clip-path="url(#gomclip)">
<rect x="26" y="124.4" width="77" height="43.3" fill="url(#gomg)"/>
<path d="M101.8,134 L98.9,134.3 L101.2,135.4 L98.9,140 L94.3,138.8 L89.8,140.5 L85.2,142.2 L80.7,141.1 L75,138.8 L73.8,135.4 L70,133 L68.1,130.8 L65,129.5 L62.4,128 L59,128 L56,129.5 L53.3,134.3 L48.8,133.1 L37.4,130.8 L30,129 L27,128.6" fill="none" stroke="#F7EA1A" stroke-width="7" filter="url(#bl15)"/>
<path d="M26.0,124.0 L103.0,124.0 L101.8,134.0 L98.9,134.3 L101.2,135.4 L98.9,140.0 L94.3,138.8 L89.8,140.5 L85.2,142.2 L80.7,141.1 L75.0,138.8 L73.8,135.4 L70.0,133.0 L68.1,130.8 L65.0,129.5 L62.4,128.0 L59.0,128.0 L56.0,129.5 L53.3,134.3 L48.8,133.1 L37.4,130.8 L30.0,129.0 L27.0,128.6 L26.0,128.6 Z" fill="#8E8E8E" />
<path d="M57.5,131.0 L61.0,130.6 L64.0,131.5 L63.0,133.0 L59.0,133.2 Z" fill="#8E8E8E" />
</g>
<circle cx="40.90" cy="139.40" r="4.2" fill="white" stroke="#000" stroke-width="1.6"/>
<circle cx="73.30" cy="150.30" r="4.2" fill="white" stroke="#000" stroke-width="1.6"/>
<circle cx="92.10" cy="149.10" r="4.2" fill="white" stroke="#000" stroke-width="1.6"/>
<text x="29.10" y="164.30" font-size="10.7" fill="#1d1f24" text-anchor="start" textLength="69.2" lengthAdjust="spacingAndGlyphs" >Gulf of Mexico</text>
<rect x="26" y="124.4" width="76.8" height="43.3" fill="none" stroke="#F2BF2E" stroke-width="1.8"/>
<g clip-path="url(#angclip)">
<rect x="249" y="144" width="78" height="84" fill="url(#angg)"/>
<path d="M249.0,195.0 L275.0,200.0 L300.0,215.0 L326.0,218.0 L326.0,228.0 L249.0,228.0 Z" fill="#2B2B8B" filter="url(#bl6)"/>
<path d="M300.0,222.0 L326.0,214.0 L326.0,228.0 L296.0,228.0 Z" fill="#3A5DB8" filter="url(#bl3)"/>
<path d="M249.0,146.0 L326.0,146.0 L326.0,166.0 L300.0,163.0 L275.0,164.0 L249.0,166.0 Z" fill="#3282D8" filter="url(#bl3)"/>
<path d="M318.0,160.0 L326.0,158.0 L326.0,205.0 L316.0,200.0 L312.0,190.0 L314.0,175.0 Z" fill="#2F98D2" filter="url(#bl3)"/>
<ellipse cx="317" cy="185" rx="16" ry="12" fill="#3FA3D2" filter="url(#bl3)"/>
<ellipse cx="319" cy="186" rx="10" ry="6.5" fill="#86C16C" filter="url(#bl15)"/>
<ellipse cx="321.5" cy="186.5" rx="5" ry="3.2" fill="#F0D232" filter="url(#bl08)"/>
<ellipse cx="324" cy="176" rx="2.5" ry="5" fill="#9CC95E" filter="url(#bl08)"/>
<path d="M249.8,145 L253,147.5 L257.3,150 L260.5,152.3 L263.9,154.1 L268,156.2 L272,155.3 L276,153.8 L283,153 L289,153 L294.2,151.2 L301.6,150.3 L306,152 L310,154 L317.4,156.8 L323,157.7 L327,158" fill="none" stroke="#2CA0D8" stroke-width="6" filter="url(#bl15)"/>
<path d="M249.8,145 L253,147.5 L257.3,150 L260.5,152.3 L263.9,154.1 L268,156.2 L272,155.3 L276,153.8 L283,153 L289,153 L294.2,151.2 L301.6,150.3 L306,152 L310,154 L317.4,156.8 L323,157.7 L327,158" fill="none" stroke="#E2DC3C" stroke-width="2" filter="url(#bl05)"/>
<path d="M249.0,144.0 L327.0,144.0 L327.0,158.0 L323.0,157.7 L317.4,156.8 L310.0,154.0 L306.0,152.0 L301.6,150.3 L294.2,151.2 L289.0,153.0 L283.0,153.0 L276.0,153.8 L272.0,155.3 L268.0,156.2 L263.9,154.1 L260.5,152.3 L257.3,150.0 L253.0,147.5 L249.8,145.0 Z" fill="#8E8E8E" />
</g>
<circle cx="263.20" cy="168.40" r="4.0" fill="white" stroke="#000" stroke-width="1.5"/>
<circle cx="269.70" cy="175.70" r="4.0" fill="white" stroke="#000" stroke-width="1.5"/>
<circle cx="278.40" cy="185.10" r="4.0" fill="white" stroke="#000" stroke-width="1.5"/>
<circle cx="292.00" cy="200.30" r="4.0" fill="white" stroke="#000" stroke-width="1.5"/>
<circle cx="305.70" cy="215.50" r="4.0" fill="white" stroke="#000" stroke-width="1.5"/>
<rect x="248.7" y="144.6" width="77.2" height="82.6" fill="none" stroke="#362F8D" stroke-width="1.8"/>
<text x="251.20" y="225.90" font-size="10.7" fill="#ffffff" text-anchor="start" textLength="60" lengthAdjust="spacingAndGlyphs" >Angola Gyre</text>
<rect x="26.4" y="192.6" width="108.2" height="21.2" fill="url(#cbar)" stroke="#777" stroke-width="0.6"/>
<text x="26.50" y="223.80" font-size="10.4" fill="#1e1e1e" text-anchor="start" textLength="13.8" lengthAdjust="spacingAndGlyphs" >0.1</text>
<text x="81.20" y="223.80" font-size="10.4" fill="#1e1e1e" text-anchor="middle" >1</text>
<text x="134.30" y="223.80" font-size="10.4" fill="#1e1e1e" text-anchor="end" textLength="11.0" lengthAdjust="spacingAndGlyphs" >10</text>
<text x="28.0" y="235.6" font-size="10.8" fill="#1e1e1e" textLength="95.1" lengthAdjust="spacingAndGlyphs">chlorophyll a (mg m</text>
<text x="123.70" y="231.90" font-size="6.6" fill="#1e1e1e" text-anchor="start" textLength="5.3" lengthAdjust="spacingAndGlyphs" >-3</text>
<text x="129.30" y="235.60" font-size="10.8" fill="#1e1e1e" text-anchor="start" >)</text>
<text x="349.00" y="8.00" font-size="10.5" fill="#111" text-anchor="start" font-weight="bold">b</text>
<line x1="396.60" y1="62.30" x2="401.20" y2="62.30" stroke="#111" stroke-width="1.5"/>
<text x="394.30" y="65.90" font-size="10" fill="#1e1e1e" text-anchor="end" textLength="20.2" lengthAdjust="spacingAndGlyphs">1.00</text>
<line x1="396.60" y1="106.12" x2="401.20" y2="106.12" stroke="#111" stroke-width="1.5"/>
<text x="394.30" y="109.72" font-size="10" fill="#1e1e1e" text-anchor="end" textLength="20.2" lengthAdjust="spacingAndGlyphs">0.75</text>
<line x1="396.60" y1="149.95" x2="401.20" y2="149.95" stroke="#111" stroke-width="1.5"/>
<text x="394.30" y="153.55" font-size="10" fill="#1e1e1e" text-anchor="end" textLength="20.2" lengthAdjust="spacingAndGlyphs">0.50</text>
<line x1="396.60" y1="193.77" x2="401.20" y2="193.77" stroke="#111" stroke-width="1.5"/>
<text x="394.30" y="197.37" font-size="10" fill="#1e1e1e" text-anchor="end" textLength="20.2" lengthAdjust="spacingAndGlyphs">0.25</text>
<line x1="396.60" y1="237.60" x2="401.20" y2="237.60" stroke="#111" stroke-width="1.5"/>
<text x="394.30" y="241.20" font-size="10" fill="#1e1e1e" text-anchor="end" textLength="20.2" lengthAdjust="spacingAndGlyphs">0.00</text>
<clipPath id="clipb"><rect x="402" y="0" width="283" height="236.7"/></clipPath><g clip-path="url(#clipb)">
<line x1="454.0" y1="152.0536" x2="454.0" y2="112.2605" stroke="#2a2a2a" stroke-width="1.5"/>
<line x1="454.0" y1="210.2532" x2="454.0" y2="223.22539999999998" stroke="#2a2a2a" stroke-width="1.5"/>
<line x1="432.0" y1="112.2605" x2="476.0" y2="112.2605" stroke="#1a1a1a" stroke-width="1.5"/>
<line x1="432.0" y1="223.22539999999998" x2="476.0" y2="223.22539999999998" stroke="#1a1a1a" stroke-width="1.5"/>
<rect x="414.0" y="152.0536" width="80" height="58.199600000000004" fill="#F9D978" stroke="#333333" stroke-width="1.8"/>
<line x1="414.0" y1="199.38459999999998" x2="494.0" y2="199.38459999999998" stroke="#333333" stroke-width="3"/>
<line x1="542.6" y1="62.29999999999998" x2="542.6" y2="62.29999999999998" stroke="#2a2a2a" stroke-width="1.5"/>
<line x1="542.6" y1="162.92219999999998" x2="542.6" y2="237.6" stroke="#2a2a2a" stroke-width="1.5"/>
<line x1="542.59" y1="62.29999999999998" x2="542.61" y2="62.29999999999998" stroke="#1a1a1a" stroke-width="1.5"/>
<line x1="542.59" y1="237.6" x2="542.61" y2="237.6" stroke="#1a1a1a" stroke-width="1.5"/>
<rect x="502.6" y="62.29999999999998" width="80" height="100.62219999999999" fill="#5CC4CD" stroke="#333333" stroke-width="1.8"/>
<line x1="502.6" y1="105.77439999999999" x2="582.6" y2="105.77439999999999" stroke="#333333" stroke-width="3"/>
<line x1="630.9" y1="71.41559999999998" x2="630.9" y2="62.29999999999998" stroke="#2a2a2a" stroke-width="1.5"/>
<line x1="630.9" y1="157.83849999999998" x2="630.9" y2="187.6395" stroke="#2a2a2a" stroke-width="1.5"/>
<line x1="608.9" y1="62.29999999999998" x2="652.9" y2="62.29999999999998" stroke="#1a1a1a" stroke-width="1.5"/>
<line x1="608.9" y1="187.6395" x2="652.9" y2="187.6395" stroke="#1a1a1a" stroke-width="1.5"/>
<rect x="591.1999999999999" y="71.41559999999998" width="79.4" height="86.4229" fill="#6E68AE" stroke="#333333" stroke-width="1.8"/>
<line x1="591.1999999999999" y1="96.83409999999998" x2="670.6" y2="96.83409999999998" stroke="#333333" stroke-width="3"/>
<circle cx="436.30" cy="62.20" r="3.7" fill="#F6C53A" stroke="#0b0b0b" stroke-width="1.3"/>
<circle cx="439.60" cy="83.50" r="3.7" fill="#F6C53A" stroke="#0b0b0b" stroke-width="1.3"/>
<circle cx="464.80" cy="97.30" r="3.7" fill="#F6C53A" stroke="#0b0b0b" stroke-width="1.3"/>
<circle cx="478.40" cy="104.10" r="3.7" fill="#F6C53A" stroke="#0b0b0b" stroke-width="1.3"/>
<circle cx="441.70" cy="110.30" r="3.7" fill="#F6C53A" stroke="#0b0b0b" stroke-width="1.3"/>
<circle cx="441.30" cy="119.30" r="3.7" fill="#F6C53A" stroke="#0b0b0b" stroke-width="1.3"/>
<circle cx="434.50" cy="122.00" r="3.7" fill="#F6C53A" stroke="#0b0b0b" stroke-width="1.3"/>
<circle cx="433.90" cy="136.40" r="3.7" fill="#F6C53A" stroke="#0b0b0b" stroke-width="1.3"/>
<circle cx="438.60" cy="141.60" r="3.7" fill="#F6C53A" stroke="#0b0b0b" stroke-width="1.3"/>
<circle cx="458.20" cy="143.70" r="3.7" fill="#F6C53A" stroke="#0b0b0b" stroke-width="1.3"/>
<circle cx="444.80" cy="151.10" r="3.7" fill="#F6C53A" stroke="#0b0b0b" stroke-width="1.3"/>
<circle cx="477.20" cy="151.50" r="3.7" fill="#F6C53A" stroke="#0b0b0b" stroke-width="1.3"/>
<circle cx="432.20" cy="159.40" r="3.7" fill="#F6C53A" stroke="#0b0b0b" stroke-width="1.3"/>
<circle cx="461.70" cy="169.10" r="3.7" fill="#F6C53A" stroke="#0b0b0b" stroke-width="1.3"/>
<circle cx="476.10" cy="173.50" r="3.7" fill="#F6C53A" stroke="#0b0b0b" stroke-width="1.3"/>
<circle cx="442.50" cy="182.50" r="3.7" fill="#F6C53A" stroke="#0b0b0b" stroke-width="1.3"/>
<circle cx="463.10" cy="182.50" r="3.7" fill="#F6C53A" stroke="#0b0b0b" stroke-width="1.3"/>
<circle cx="479.60" cy="181.70" r="3.7" fill="#F6C53A" stroke="#0b0b0b" stroke-width="1.3"/>
<circle cx="431.80" cy="201.70" r="3.7" fill="#F6C53A" stroke="#0b0b0b" stroke-width="1.3"/>
<circle cx="438.00" cy="201.00" r="3.7" fill="#F6C53A" stroke="#0b0b0b" stroke-width="1.3"/>
<circle cx="443.10" cy="198.60" r="3.7" fill="#F6C53A" stroke="#0b0b0b" stroke-width="1.3"/>
<circle cx="441.70" cy="203.80" r="3.7" fill="#F6C53A" stroke="#0b0b0b" stroke-width="1.3"/>
<circle cx="450.00" cy="204.80" r="3.7" fill="#F6C53A" stroke="#0b0b0b" stroke-width="1.3"/>
<circle cx="455.50" cy="205.80" r="3.7" fill="#F6C53A" stroke="#0b0b0b" stroke-width="1.3"/>
<circle cx="460.70" cy="199.60" r="3.7" fill="#F6C53A" stroke="#0b0b0b" stroke-width="1.3"/>
<circle cx="463.80" cy="199.60" r="3.7" fill="#F6C53A" stroke="#0b0b0b" stroke-width="1.3"/>
<circle cx="466.90" cy="199.60" r="3.7" fill="#F6C53A" stroke="#0b0b0b" stroke-width="1.3"/>
<circle cx="466.40" cy="207.90" r="3.7" fill="#F6C53A" stroke="#0b0b0b" stroke-width="1.3"/>
<circle cx="470.00" cy="205.80" r="3.7" fill="#F6C53A" stroke="#0b0b0b" stroke-width="1.3"/>
<circle cx="453.50" cy="211.00" r="3.7" fill="#F6C53A" stroke="#0b0b0b" stroke-width="1.3"/>
<circle cx="456.50" cy="213.00" r="3.7" fill="#F6C53A" stroke="#0b0b0b" stroke-width="1.3"/>
<circle cx="454.10" cy="216.80" r="3.7" fill="#F6C53A" stroke="#0b0b0b" stroke-width="1.3"/>
<circle cx="474.00" cy="211.40" r="3.7" fill="#F6C53A" stroke="#0b0b0b" stroke-width="1.3"/>
<circle cx="476.10" cy="211.00" r="3.7" fill="#F6C53A" stroke="#0b0b0b" stroke-width="1.3"/>
<circle cx="431.80" cy="212.40" r="3.7" fill="#F6C53A" stroke="#0b0b0b" stroke-width="1.3"/>
<circle cx="462.30" cy="220.30" r="3.7" fill="#F6C53A" stroke="#0b0b0b" stroke-width="1.3"/>
<circle cx="446.20" cy="225.00" r="3.7" fill="#F6C53A" stroke="#0b0b0b" stroke-width="1.3"/>
<circle cx="471.00" cy="223.80" r="3.7" fill="#F6C53A" stroke="#0b0b0b" stroke-width="1.3"/>
<circle cx="477.60" cy="224.40" r="3.7" fill="#F6C53A" stroke="#0b0b0b" stroke-width="1.3"/>
<circle cx="476.10" cy="228.50" r="3.7" fill="#F6C53A" stroke="#0b0b0b" stroke-width="1.3"/>
<circle cx="480.30" cy="236.10" r="3.7" fill="#F6C53A" stroke="#0b0b0b" stroke-width="1.3"/>
<circle cx="447.00" cy="208.00" r="3.7" fill="#F6C53A" stroke="#0b0b0b" stroke-width="1.3"/>
<circle cx="459.00" cy="204.00" r="3.7" fill="#F6C53A" stroke="#0b0b0b" stroke-width="1.3"/>
<circle cx="541.10" cy="80.40" r="3.7" fill="#1DA9B8" stroke="#0b0b0b" stroke-width="1.3"/>
<circle cx="522.30" cy="94.60" r="3.7" fill="#1DA9B8" stroke="#0b0b0b" stroke-width="1.3"/>
<circle cx="523.60" cy="98.30" r="3.7" fill="#1DA9B8" stroke="#0b0b0b" stroke-width="1.3"/>
<circle cx="528.50" cy="92.10" r="3.7" fill="#1DA9B8" stroke="#0b0b0b" stroke-width="1.3"/>
<circle cx="533.70" cy="97.70" r="3.7" fill="#1DA9B8" stroke="#0b0b0b" stroke-width="1.3"/>
<circle cx="538.40" cy="95.20" r="3.7" fill="#1DA9B8" stroke="#0b0b0b" stroke-width="1.3"/>
<circle cx="537.80" cy="102.00" r="3.7" fill="#1DA9B8" stroke="#0b0b0b" stroke-width="1.3"/>
<circle cx="517.70" cy="105.70" r="3.7" fill="#1DA9B8" stroke="#0b0b0b" stroke-width="1.3"/>
<circle cx="561.90" cy="97.70" r="3.7" fill="#1DA9B8" stroke="#0b0b0b" stroke-width="1.3"/>
<circle cx="568.10" cy="99.60" r="3.7" fill="#1DA9B8" stroke="#0b0b0b" stroke-width="1.3"/>
<circle cx="558.20" cy="104.50" r="3.7" fill="#1DA9B8" stroke="#0b0b0b" stroke-width="1.3"/>
<circle cx="566.30" cy="103.90" r="3.7" fill="#1DA9B8" stroke="#0b0b0b" stroke-width="1.3"/>
<circle cx="547.70" cy="108.20" r="3.7" fill="#1DA9B8" stroke="#0b0b0b" stroke-width="1.3"/>
<circle cx="535.30" cy="111.30" r="3.7" fill="#1DA9B8" stroke="#0b0b0b" stroke-width="1.3"/>
<circle cx="517.70" cy="106.20" r="3.7" fill="#1DA9B8" stroke="#0b0b0b" stroke-width="1.3"/>
<circle cx="534.70" cy="111.80" r="3.7" fill="#1DA9B8" stroke="#0b0b0b" stroke-width="1.3"/>
<circle cx="516.10" cy="117.90" r="3.7" fill="#1DA9B8" stroke="#0b0b0b" stroke-width="1.3"/>
<circle cx="521.70" cy="116.70" r="3.7" fill="#1DA9B8" stroke="#0b0b0b" stroke-width="1.3"/>
<circle cx="526.00" cy="115.50" r="3.7" fill="#1DA9B8" stroke="#0b0b0b" stroke-width="1.3"/>
<circle cx="523.60" cy="121.70" r="3.7" fill="#1DA9B8" stroke="#0b0b0b" stroke-width="1.3"/>
<circle cx="518.60" cy="127.50" r="3.7" fill="#1DA9B8" stroke="#0b0b0b" stroke-width="1.3"/>
<circle cx="541.50" cy="119.80" r="3.7" fill="#1DA9B8" stroke="#0b0b0b" stroke-width="1.3"/>
<circle cx="544.40" cy="122.30" r="3.7" fill="#1DA9B8" stroke="#0b0b0b" stroke-width="1.3"/>
<circle cx="547.70" cy="108.00" r="3.7" fill="#1DA9B8" stroke="#0b0b0b" stroke-width="1.3"/>
<circle cx="542.70" cy="112.40" r="3.7" fill="#1DA9B8" stroke="#0b0b0b" stroke-width="1.3"/>
<circle cx="549.60" cy="116.10" r="3.7" fill="#1DA9B8" stroke="#0b0b0b" stroke-width="1.3"/>
<circle cx="555.10" cy="116.10" r="3.7" fill="#1DA9B8" stroke="#0b0b0b" stroke-width="1.3"/>
<circle cx="553.30" cy="122.90" r="3.7" fill="#1DA9B8" stroke="#0b0b0b" stroke-width="1.3"/>
<circle cx="534.10" cy="126.00" r="3.7" fill="#1DA9B8" stroke="#0b0b0b" stroke-width="1.3"/>
<circle cx="534.10" cy="129.10" r="3.7" fill="#1DA9B8" stroke="#0b0b0b" stroke-width="1.3"/>
<circle cx="558.20" cy="103.70" r="3.7" fill="#1DA9B8" stroke="#0b0b0b" stroke-width="1.3"/>
<circle cx="566.90" cy="104.30" r="3.7" fill="#1DA9B8" stroke="#0b0b0b" stroke-width="1.3"/>
<circle cx="561.90" cy="113.00" r="3.7" fill="#1DA9B8" stroke="#0b0b0b" stroke-width="1.3"/>
<circle cx="566.30" cy="115.50" r="3.7" fill="#1DA9B8" stroke="#0b0b0b" stroke-width="1.3"/>
<circle cx="570.00" cy="114.90" r="3.7" fill="#1DA9B8" stroke="#0b0b0b" stroke-width="1.3"/>
<circle cx="565.60" cy="126.00" r="3.7" fill="#1DA9B8" stroke="#0b0b0b" stroke-width="1.3"/>
<circle cx="559.50" cy="130.90" r="3.7" fill="#1DA9B8" stroke="#0b0b0b" stroke-width="1.3"/>
<circle cx="519.90" cy="136.50" r="3.7" fill="#1DA9B8" stroke="#0b0b0b" stroke-width="1.3"/>
<circle cx="522.90" cy="136.50" r="3.7" fill="#1DA9B8" stroke="#0b0b0b" stroke-width="1.3"/>
<circle cx="526.70" cy="142.10" r="3.7" fill="#1DA9B8" stroke="#0b0b0b" stroke-width="1.3"/>
<circle cx="534.70" cy="140.20" r="3.7" fill="#1DA9B8" stroke="#0b0b0b" stroke-width="1.3"/>
<circle cx="532.80" cy="147.00" r="3.7" fill="#1DA9B8" stroke="#0b0b0b" stroke-width="1.3"/>
<circle cx="544.60" cy="137.70" r="3.7" fill="#1DA9B8" stroke="#0b0b0b" stroke-width="1.3"/>
<circle cx="553.30" cy="136.50" r="3.7" fill="#1DA9B8" stroke="#0b0b0b" stroke-width="1.3"/>
<circle cx="559.50" cy="138.40" r="3.7" fill="#1DA9B8" stroke="#0b0b0b" stroke-width="1.3"/>
<circle cx="565.00" cy="139.60" r="3.7" fill="#1DA9B8" stroke="#0b0b0b" stroke-width="1.3"/>
<circle cx="553.90" cy="146.40" r="3.7" fill="#1DA9B8" stroke="#0b0b0b" stroke-width="1.3"/>
<circle cx="522.30" cy="153.20" r="3.7" fill="#1DA9B8" stroke="#0b0b0b" stroke-width="1.3"/>
<circle cx="526.00" cy="154.50" r="3.7" fill="#1DA9B8" stroke="#0b0b0b" stroke-width="1.3"/>
<circle cx="561.90" cy="154.50" r="3.7" fill="#1DA9B8" stroke="#0b0b0b" stroke-width="1.3"/>
<circle cx="564.40" cy="150.10" r="3.7" fill="#1DA9B8" stroke="#0b0b0b" stroke-width="1.3"/>
<circle cx="552.60" cy="158.80" r="3.7" fill="#1DA9B8" stroke="#0b0b0b" stroke-width="1.3"/>
<circle cx="529.00" cy="147.00" r="3.7" fill="#1DA9B8" stroke="#0b0b0b" stroke-width="1.3"/>
<circle cx="533.10" cy="147.00" r="3.7" fill="#1DA9B8" stroke="#0b0b0b" stroke-width="1.3"/>
<circle cx="553.80" cy="147.00" r="3.7" fill="#1DA9B8" stroke="#0b0b0b" stroke-width="1.3"/>
<circle cx="564.10" cy="150.20" r="3.7" fill="#1DA9B8" stroke="#0b0b0b" stroke-width="1.3"/>
<circle cx="561.40" cy="154.90" r="3.7" fill="#1DA9B8" stroke="#0b0b0b" stroke-width="1.3"/>
<circle cx="558.90" cy="159.40" r="3.7" fill="#1DA9B8" stroke="#0b0b0b" stroke-width="1.3"/>
<circle cx="552.30" cy="160.50" r="3.7" fill="#1DA9B8" stroke="#0b0b0b" stroke-width="1.3"/>
<circle cx="561.00" cy="163.60" r="3.7" fill="#1DA9B8" stroke="#0b0b0b" stroke-width="1.3"/>
<circle cx="551.70" cy="164.60" r="3.7" fill="#1DA9B8" stroke="#0b0b0b" stroke-width="1.3"/>
<circle cx="529.00" cy="163.10" r="3.7" fill="#1DA9B8" stroke="#0b0b0b" stroke-width="1.3"/>
<circle cx="532.10" cy="165.20" r="3.7" fill="#1DA9B8" stroke="#0b0b0b" stroke-width="1.3"/>
<circle cx="537.30" cy="165.20" r="3.7" fill="#1DA9B8" stroke="#0b0b0b" stroke-width="1.3"/>
<circle cx="535.20" cy="168.70" r="3.7" fill="#1DA9B8" stroke="#0b0b0b" stroke-width="1.3"/>
<circle cx="517.30" cy="180.50" r="3.7" fill="#1DA9B8" stroke="#0b0b0b" stroke-width="1.3"/>
<circle cx="532.10" cy="187.30" r="3.7" fill="#1DA9B8" stroke="#0b0b0b" stroke-width="1.3"/>
<circle cx="542.00" cy="174.90" r="3.7" fill="#1DA9B8" stroke="#0b0b0b" stroke-width="1.3"/>
<circle cx="552.70" cy="171.80" r="3.7" fill="#1DA9B8" stroke="#0b0b0b" stroke-width="1.3"/>
<circle cx="558.90" cy="177.60" r="3.7" fill="#1DA9B8" stroke="#0b0b0b" stroke-width="1.3"/>
<circle cx="563.00" cy="177.00" r="3.7" fill="#1DA9B8" stroke="#0b0b0b" stroke-width="1.3"/>
<circle cx="557.90" cy="184.20" r="3.7" fill="#1DA9B8" stroke="#0b0b0b" stroke-width="1.3"/>
<circle cx="562.00" cy="188.30" r="3.7" fill="#1DA9B8" stroke="#0b0b0b" stroke-width="1.3"/>
<circle cx="535.20" cy="202.70" r="3.7" fill="#1DA9B8" stroke="#0b0b0b" stroke-width="1.3"/>
<circle cx="536.20" cy="205.20" r="3.7" fill="#1DA9B8" stroke="#0b0b0b" stroke-width="1.3"/>
<circle cx="554.40" cy="199.00" r="3.7" fill="#1DA9B8" stroke="#0b0b0b" stroke-width="1.3"/>
<circle cx="549.00" cy="205.80" r="3.7" fill="#1DA9B8" stroke="#0b0b0b" stroke-width="1.3"/>
<circle cx="547.60" cy="211.40" r="3.7" fill="#1DA9B8" stroke="#0b0b0b" stroke-width="1.3"/>
<circle cx="568.20" cy="206.40" r="3.7" fill="#1DA9B8" stroke="#0b0b0b" stroke-width="1.3"/>
<circle cx="566.10" cy="213.00" r="3.7" fill="#1DA9B8" stroke="#0b0b0b" stroke-width="1.3"/>
<circle cx="555.80" cy="216.10" r="3.7" fill="#1DA9B8" stroke="#0b0b0b" stroke-width="1.3"/>
<circle cx="554.80" cy="220.90" r="3.7" fill="#1DA9B8" stroke="#0b0b0b" stroke-width="1.3"/>
<circle cx="566.10" cy="223.80" r="3.7" fill="#1DA9B8" stroke="#0b0b0b" stroke-width="1.3"/>
<circle cx="532.50" cy="221.70" r="3.7" fill="#1DA9B8" stroke="#0b0b0b" stroke-width="1.3"/>
<circle cx="533.16" cy="105.35" r="3.7" fill="#1DA9B8" stroke="#0b0b0b" stroke-width="1.3"/>
<circle cx="550.50" cy="100.49" r="3.7" fill="#1DA9B8" stroke="#0b0b0b" stroke-width="1.3"/>
<circle cx="544.40" cy="118.67" r="3.7" fill="#1DA9B8" stroke="#0b0b0b" stroke-width="1.3"/>
<circle cx="519.07" cy="127.46" r="3.7" fill="#1DA9B8" stroke="#0b0b0b" stroke-width="1.3"/>
<circle cx="517.99" cy="122.89" r="3.7" fill="#1DA9B8" stroke="#0b0b0b" stroke-width="1.3"/>
<circle cx="519.70" cy="101.62" r="3.7" fill="#1DA9B8" stroke="#0b0b0b" stroke-width="1.3"/>
<circle cx="538.50" cy="147.26" r="3.7" fill="#1DA9B8" stroke="#0b0b0b" stroke-width="1.3"/>
<circle cx="522.56" cy="109.84" r="3.7" fill="#1DA9B8" stroke="#0b0b0b" stroke-width="1.3"/>
<circle cx="549.25" cy="154.76" r="3.7" fill="#1DA9B8" stroke="#0b0b0b" stroke-width="1.3"/>
<circle cx="546.59" cy="120.59" r="3.7" fill="#1DA9B8" stroke="#0b0b0b" stroke-width="1.3"/>
<circle cx="567.74" cy="98.89" r="3.7" fill="#1DA9B8" stroke="#0b0b0b" stroke-width="1.3"/>
<circle cx="561.50" cy="113.96" r="3.7" fill="#1DA9B8" stroke="#0b0b0b" stroke-width="1.3"/>
<circle cx="523.65" cy="103.30" r="3.7" fill="#1DA9B8" stroke="#0b0b0b" stroke-width="1.3"/>
<circle cx="532.35" cy="146.60" r="3.7" fill="#1DA9B8" stroke="#0b0b0b" stroke-width="1.3"/>
<circle cx="525.58" cy="132.06" r="3.7" fill="#1DA9B8" stroke="#0b0b0b" stroke-width="1.3"/>
<circle cx="549.86" cy="119.09" r="3.7" fill="#1DA9B8" stroke="#0b0b0b" stroke-width="1.3"/>
<circle cx="545.03" cy="99.89" r="3.7" fill="#1DA9B8" stroke="#0b0b0b" stroke-width="1.3"/>
<circle cx="519.16" cy="108.77" r="3.7" fill="#1DA9B8" stroke="#0b0b0b" stroke-width="1.3"/>
<circle cx="552.06" cy="122.51" r="3.7" fill="#1DA9B8" stroke="#0b0b0b" stroke-width="1.3"/>
<circle cx="532.65" cy="132.30" r="3.7" fill="#1DA9B8" stroke="#0b0b0b" stroke-width="1.3"/>
<circle cx="540.02" cy="114.59" r="3.7" fill="#1DA9B8" stroke="#0b0b0b" stroke-width="1.3"/>
<circle cx="558.10" cy="139.34" r="3.7" fill="#1DA9B8" stroke="#0b0b0b" stroke-width="1.3"/>
<circle cx="528.94" cy="131.61" r="3.7" fill="#1DA9B8" stroke="#0b0b0b" stroke-width="1.3"/>
<circle cx="543.84" cy="150.26" r="3.7" fill="#1DA9B8" stroke="#0b0b0b" stroke-width="1.3"/>
<circle cx="554.66" cy="113.85" r="3.7" fill="#1DA9B8" stroke="#0b0b0b" stroke-width="1.3"/>
<circle cx="567.95" cy="103.32" r="3.7" fill="#1DA9B8" stroke="#0b0b0b" stroke-width="1.3"/>
<circle cx="538.16" cy="142.94" r="3.7" fill="#1DA9B8" stroke="#0b0b0b" stroke-width="1.3"/>
<circle cx="524.06" cy="126.32" r="3.7" fill="#1DA9B8" stroke="#0b0b0b" stroke-width="1.3"/>
<circle cx="518.50" cy="233.00" r="3.7" fill="#1DA9B8" stroke="#0b0b0b" stroke-width="1.3"/>
<circle cx="520.00" cy="226.40" r="3.7" fill="#1DA9B8" stroke="#0b0b0b" stroke-width="1.3"/>
<circle cx="524.20" cy="226.90" r="3.7" fill="#1DA9B8" stroke="#0b0b0b" stroke-width="1.3"/>
<circle cx="525.20" cy="223.50" r="3.7" fill="#1DA9B8" stroke="#0b0b0b" stroke-width="1.3"/>
<circle cx="532.80" cy="221.20" r="3.7" fill="#1DA9B8" stroke="#0b0b0b" stroke-width="1.3"/>
<circle cx="531.30" cy="226.40" r="3.7" fill="#1DA9B8" stroke="#0b0b0b" stroke-width="1.3"/>
<circle cx="538.50" cy="227.30" r="3.7" fill="#1DA9B8" stroke="#0b0b0b" stroke-width="1.3"/>
<circle cx="529.00" cy="233.00" r="3.7" fill="#1DA9B8" stroke="#0b0b0b" stroke-width="1.3"/>
<circle cx="535.60" cy="234.40" r="3.7" fill="#1DA9B8" stroke="#0b0b0b" stroke-width="1.3"/>
<circle cx="540.40" cy="231.60" r="3.7" fill="#1DA9B8" stroke="#0b0b0b" stroke-width="1.3"/>
<circle cx="522.30" cy="236.30" r="3.7" fill="#1DA9B8" stroke="#0b0b0b" stroke-width="1.3"/>
<circle cx="529.00" cy="236.30" r="3.7" fill="#1DA9B8" stroke="#0b0b0b" stroke-width="1.3"/>
<circle cx="542.30" cy="236.30" r="3.7" fill="#1DA9B8" stroke="#0b0b0b" stroke-width="1.3"/>
<circle cx="534.70" cy="236.80" r="3.7" fill="#1DA9B8" stroke="#0b0b0b" stroke-width="1.3"/>
<circle cx="555.50" cy="216.90" r="3.7" fill="#1DA9B8" stroke="#0b0b0b" stroke-width="1.3"/>
<circle cx="566.50" cy="215.50" r="3.7" fill="#1DA9B8" stroke="#0b0b0b" stroke-width="1.3"/>
<circle cx="554.60" cy="220.70" r="3.7" fill="#1DA9B8" stroke="#0b0b0b" stroke-width="1.3"/>
<circle cx="551.70" cy="226.40" r="3.7" fill="#1DA9B8" stroke="#0b0b0b" stroke-width="1.3"/>
<circle cx="557.90" cy="227.80" r="3.7" fill="#1DA9B8" stroke="#0b0b0b" stroke-width="1.3"/>
<circle cx="566.50" cy="224.00" r="3.7" fill="#1DA9B8" stroke="#0b0b0b" stroke-width="1.3"/>
<circle cx="551.30" cy="232.60" r="3.7" fill="#1DA9B8" stroke="#0b0b0b" stroke-width="1.3"/>
<circle cx="556.50" cy="236.30" r="3.7" fill="#1DA9B8" stroke="#0b0b0b" stroke-width="1.3"/>
<circle cx="563.10" cy="236.30" r="3.7" fill="#1DA9B8" stroke="#0b0b0b" stroke-width="1.3"/>
<circle cx="547.50" cy="236.30" r="3.7" fill="#1DA9B8" stroke="#0b0b0b" stroke-width="1.3"/>
<circle cx="516.00" cy="237.00" r="3.7" fill="#1DA9B8" stroke="#0b0b0b" stroke-width="1.3"/>
<circle cx="537.00" cy="237.50" r="3.7" fill="#1DA9B8" stroke="#0b0b0b" stroke-width="1.3"/>
<rect x="512.1" y="58.1" width="60.8" height="8.3" rx="4.15" fill="#111"/>
<ellipse cx="518.0" cy="62.3" rx="1.3" ry="2.7" fill="#1DA9B8"/>
<ellipse cx="529.1" cy="62.3" rx="0.9" ry="2.7" fill="#1DA9B8"/>
<ellipse cx="540.9" cy="62.3" rx="1.2" ry="2.7" fill="#1DA9B8"/>
<ellipse cx="545.9" cy="62.3" rx="1.0" ry="2.7" fill="#1DA9B8"/>
<ellipse cx="549.0" cy="62.3" rx="1.0" ry="2.7" fill="#1DA9B8"/>
<ellipse cx="553.0" cy="62.3" rx="1.2" ry="2.7" fill="#1DA9B8"/>
<ellipse cx="563.7" cy="62.3" rx="0.8" ry="2.7" fill="#1DA9B8"/>
<circle cx="523.30" cy="62.30" r="3.7" fill="#1DA9B8" stroke="#0b0b0b" stroke-width="1.3"/>
<circle cx="535.10" cy="62.30" r="3.7" fill="#1DA9B8" stroke="#0b0b0b" stroke-width="1.3"/>
<circle cx="558.10" cy="62.30" r="3.7" fill="#1DA9B8" stroke="#0b0b0b" stroke-width="1.3"/>
<circle cx="569.10" cy="62.30" r="3.7" fill="#1DA9B8" stroke="#0b0b0b" stroke-width="1.3"/>
<circle cx="568.70" cy="69.20" r="3.7" fill="#1DA9B8" stroke="#0b0b0b" stroke-width="1.3"/>
<circle cx="610.80" cy="62.80" r="3.7" fill="#2E2C89" stroke="#0b0b0b" stroke-width="1.3"/>
<circle cx="615.90" cy="62.80" r="3.7" fill="#2E2C89" stroke="#0b0b0b" stroke-width="1.3"/>
<circle cx="621.10" cy="62.80" r="3.7" fill="#2E2C89" stroke="#0b0b0b" stroke-width="1.3"/>
<circle cx="626.20" cy="62.80" r="3.7" fill="#2E2C89" stroke="#0b0b0b" stroke-width="1.3"/>
<circle cx="629.30" cy="62.80" r="3.7" fill="#2E2C89" stroke="#0b0b0b" stroke-width="1.3"/>
<circle cx="640.70" cy="62.80" r="3.7" fill="#2E2C89" stroke="#0b0b0b" stroke-width="1.3"/>
<circle cx="645.20" cy="62.80" r="3.7" fill="#2E2C89" stroke="#0b0b0b" stroke-width="1.3"/>
<circle cx="655.50" cy="62.80" r="3.7" fill="#2E2C89" stroke="#0b0b0b" stroke-width="1.3"/>
<circle cx="654.70" cy="64.90" r="3.7" fill="#2E2C89" stroke="#0b0b0b" stroke-width="1.3"/>
<circle cx="621.10" cy="67.40" r="3.7" fill="#2E2C89" stroke="#0b0b0b" stroke-width="1.3"/>
<circle cx="604.60" cy="72.50" r="3.7" fill="#2E2C89" stroke="#0b0b0b" stroke-width="1.3"/>
<circle cx="609.30" cy="73.60" r="3.7" fill="#2E2C89" stroke="#0b0b0b" stroke-width="1.3"/>
<circle cx="610.20" cy="77.70" r="3.7" fill="#2E2C89" stroke="#0b0b0b" stroke-width="1.3"/>
<circle cx="620.10" cy="78.70" r="3.7" fill="#2E2C89" stroke="#0b0b0b" stroke-width="1.3"/>
<circle cx="635.10" cy="74.60" r="3.7" fill="#2E2C89" stroke="#0b0b0b" stroke-width="1.3"/>
<circle cx="639.60" cy="72.50" r="3.7" fill="#2E2C89" stroke="#0b0b0b" stroke-width="1.3"/>
<circle cx="651.00" cy="71.10" r="3.7" fill="#2E2C89" stroke="#0b0b0b" stroke-width="1.3"/>
<circle cx="647.30" cy="76.60" r="3.7" fill="#2E2C89" stroke="#0b0b0b" stroke-width="1.3"/>
<circle cx="648.90" cy="79.30" r="3.7" fill="#2E2C89" stroke="#0b0b0b" stroke-width="1.3"/>
<circle cx="615.50" cy="86.30" r="3.7" fill="#2E2C89" stroke="#0b0b0b" stroke-width="1.3"/>
<circle cx="649.30" cy="87.60" r="3.7" fill="#2E2C89" stroke="#0b0b0b" stroke-width="1.3"/>
<circle cx="651.40" cy="90.10" r="3.7" fill="#2E2C89" stroke="#0b0b0b" stroke-width="1.3"/>
<circle cx="613.20" cy="94.60" r="3.7" fill="#2E2C89" stroke="#0b0b0b" stroke-width="1.3"/>
<circle cx="633.90" cy="96.60" r="3.7" fill="#2E2C89" stroke="#0b0b0b" stroke-width="1.3"/>
<circle cx="656.10" cy="100.40" r="3.7" fill="#2E2C89" stroke="#0b0b0b" stroke-width="1.3"/>
<circle cx="627.30" cy="105.10" r="3.7" fill="#2E2C89" stroke="#0b0b0b" stroke-width="1.3"/>
<circle cx="630.80" cy="104.90" r="3.7" fill="#2E2C89" stroke="#0b0b0b" stroke-width="1.3"/>
<circle cx="615.50" cy="111.70" r="3.7" fill="#2E2C89" stroke="#0b0b0b" stroke-width="1.3"/>
<circle cx="646.90" cy="111.10" r="3.7" fill="#2E2C89" stroke="#0b0b0b" stroke-width="1.3"/>
<circle cx="644.40" cy="121.40" r="3.7" fill="#2E2C89" stroke="#0b0b0b" stroke-width="1.3"/>
<circle cx="633.90" cy="130.30" r="3.7" fill="#2E2C89" stroke="#0b0b0b" stroke-width="1.3"/>
<circle cx="625.60" cy="135.40" r="3.7" fill="#2E2C89" stroke="#0b0b0b" stroke-width="1.3"/>
<circle cx="644.80" cy="136.40" r="3.7" fill="#2E2C89" stroke="#0b0b0b" stroke-width="1.3"/>
<circle cx="643.80" cy="142.00" r="3.7" fill="#2E2C89" stroke="#0b0b0b" stroke-width="1.3"/>
<circle cx="610.20" cy="151.90" r="3.7" fill="#2E2C89" stroke="#0b0b0b" stroke-width="1.3"/>
<circle cx="651.40" cy="153.60" r="3.7" fill="#2E2C89" stroke="#0b0b0b" stroke-width="1.3"/>
<circle cx="604.60" cy="161.90" r="3.7" fill="#2E2C89" stroke="#0b0b0b" stroke-width="1.3"/>
<circle cx="608.10" cy="172.80" r="3.7" fill="#2E2C89" stroke="#0b0b0b" stroke-width="1.3"/>
<circle cx="640.70" cy="172.20" r="3.7" fill="#2E2C89" stroke="#0b0b0b" stroke-width="1.3"/>
<circle cx="654.70" cy="170.20" r="3.7" fill="#2E2C89" stroke="#0b0b0b" stroke-width="1.3"/>
<circle cx="648.50" cy="177.40" r="3.7" fill="#2E2C89" stroke="#0b0b0b" stroke-width="1.3"/>
<circle cx="640.70" cy="180.10" r="3.7" fill="#2E2C89" stroke="#0b0b0b" stroke-width="1.3"/>
<circle cx="608.70" cy="188.90" r="3.7" fill="#2E2C89" stroke="#0b0b0b" stroke-width="1.3"/>
<circle cx="627.90" cy="188.30" r="3.7" fill="#2E2C89" stroke="#0b0b0b" stroke-width="1.3"/>
<circle cx="634.90" cy="187.70" r="3.7" fill="#2E2C89" stroke="#0b0b0b" stroke-width="1.3"/>
<circle cx="633.50" cy="221.90" r="3.7" fill="#2E2C89" stroke="#0b0b0b" stroke-width="1.3"/>
<circle cx="610.80" cy="237.80" r="3.7" fill="#2E2C89" stroke="#0b0b0b" stroke-width="1.3"/>
<circle cx="615.90" cy="237.80" r="3.7" fill="#2E2C89" stroke="#0b0b0b" stroke-width="1.3"/>
<circle cx="631.40" cy="237.80" r="3.7" fill="#2E2C89" stroke="#0b0b0b" stroke-width="1.3"/>
</g>
<line x1="401.20" y1="61.50" x2="401.20" y2="238.50" stroke="#0d0d0d" stroke-width="1.9"/>
<line x1="400.30" y1="237.60" x2="684.50" y2="237.60" stroke="#0d0d0d" stroke-width="1.8"/>
<line x1="454.00" y1="237.60" x2="454.00" y2="241.90" stroke="#111" stroke-width="1.5"/>
<line x1="542.40" y1="237.60" x2="542.40" y2="241.90" stroke="#111" stroke-width="1.5"/>
<line x1="630.90" y1="237.60" x2="630.90" y2="241.90" stroke="#111" stroke-width="1.5"/>
<text x="454.00" y="253.00" font-size="10.7" fill="#1e1e1e" text-anchor="middle" textLength="69.3" lengthAdjust="spacingAndGlyphs">Gulf of Mexico</text>
<text x="542.40" y="253.00" font-size="10.7" fill="#1e1e1e" text-anchor="middle" textLength="48.5" lengthAdjust="spacingAndGlyphs">Black Sea</text>
<text x="630.90" y="253.00" font-size="10.7" fill="#1e1e1e" text-anchor="middle" textLength="59.9" lengthAdjust="spacingAndGlyphs">Angola Gyre</text>
<text x="454.00" y="47.90" font-size="10.5" fill="#1e1e1e" text-anchor="middle" textLength="30.6" lengthAdjust="spacingAndGlyphs">n = 43</text>
<text x="541.50" y="47.90" font-size="10.5" fill="#1e1e1e" text-anchor="middle" textLength="35.6" lengthAdjust="spacingAndGlyphs">n = 231</text>
<text x="630.90" y="47.90" font-size="10.5" fill="#1e1e1e" text-anchor="middle" textLength="30.6" lengthAdjust="spacingAndGlyphs">n = 51</text>
<line x1="454.00" y1="12.30" x2="630.90" y2="12.30" stroke="#161616" stroke-width="1.7"/>
<line x1="454.00" y1="30.50" x2="542.20" y2="30.50" stroke="#161616" stroke-width="1.7"/>
<text x="542.00" y="8.60" font-size="10.5" fill="#1e1e1e" text-anchor="middle" textLength="12.3" lengthAdjust="spacingAndGlyphs">***</text>
<text x="498.00" y="26.90" font-size="11" fill="#1e1e1e" text-anchor="middle" textLength="12.3" lengthAdjust="spacingAndGlyphs">***</text>
<text x="355.60" y="147.70" font-size="10.8" fill="#1e1e1e" text-anchor="middle" textLength="126" lengthAdjust="spacingAndGlyphs" transform="rotate(-90 355.60 147.70)">Urea / (ammonium + urea)</text>
<text x="368.80" y="148.80" font-size="10.8" fill="#1e1e1e" text-anchor="middle" textLength="74.4" lengthAdjust="spacingAndGlyphs" transform="rotate(-90 368.80 148.80)">(mol-N / mol-N)</text>
<text x="-0.30" y="276.70" font-size="10.5" fill="#111" text-anchor="start" font-weight="bold">c</text>
<line x1="48.20" y1="466.50" x2="52.50" y2="466.50" stroke="#111" stroke-width="1.5"/>
<text x="44.50" y="470.10" font-size="10" fill="#1e1e1e" text-anchor="end" textLength="14.8" lengthAdjust="spacingAndGlyphs">0.0</text>
<line x1="48.20" y1="441.40" x2="52.50" y2="441.40" stroke="#111" stroke-width="1.5"/>
<text x="44.50" y="445.00" font-size="10" fill="#1e1e1e" text-anchor="end" textLength="14.8" lengthAdjust="spacingAndGlyphs">1.0</text>
<line x1="48.20" y1="416.30" x2="52.50" y2="416.30" stroke="#111" stroke-width="1.5"/>
<text x="44.50" y="419.90" font-size="10" fill="#1e1e1e" text-anchor="end" textLength="14.8" lengthAdjust="spacingAndGlyphs">2.0</text>
<line x1="48.20" y1="391.20" x2="52.50" y2="391.20" stroke="#111" stroke-width="1.5"/>
<text x="44.50" y="394.80" font-size="10" fill="#1e1e1e" text-anchor="end" textLength="14.8" lengthAdjust="spacingAndGlyphs">3.0</text>
<line x1="48.20" y1="366.10" x2="52.50" y2="366.10" stroke="#111" stroke-width="1.5"/>
<text x="44.50" y="369.70" font-size="10" fill="#1e1e1e" text-anchor="end" textLength="14.8" lengthAdjust="spacingAndGlyphs">4.0</text>
<line x1="48.20" y1="341.00" x2="52.50" y2="341.00" stroke="#111" stroke-width="1.5"/>
<text x="44.50" y="344.60" font-size="10" fill="#1e1e1e" text-anchor="end" textLength="14.8" lengthAdjust="spacingAndGlyphs">5.0</text>
<line x1="48.20" y1="315.90" x2="52.50" y2="315.90" stroke="#111" stroke-width="1.5"/>
<text x="44.50" y="319.50" font-size="10" fill="#1e1e1e" text-anchor="end" textLength="14.8" lengthAdjust="spacingAndGlyphs">6.0</text>
<line x1="48.20" y1="290.80" x2="52.50" y2="290.80" stroke="#111" stroke-width="1.5"/>
<text x="44.50" y="294.40" font-size="10" fill="#1e1e1e" text-anchor="end" textLength="14.8" lengthAdjust="spacingAndGlyphs">7.0</text>
<clipPath id="clipc"><rect x="53" y="250" width="290" height="215.6"/></clipPath><g clip-path="url(#clipc)">
<line x1="105.9" y1="449.683" x2="105.9" y2="423.328" stroke="#2a2a2a" stroke-width="1.5"/>
<line x1="105.9" y1="462.735" x2="105.9" y2="466.5" stroke="#2a2a2a" stroke-width="1.5"/>
<line x1="83.9" y1="423.328" x2="127.9" y2="423.328" stroke="#1a1a1a" stroke-width="1.5"/>
<line x1="83.9" y1="466.5" x2="127.9" y2="466.5" stroke="#1a1a1a" stroke-width="1.5"/>
<rect x="66.10000000000001" y="449.683" width="79.6" height="13.052000000000021" fill="#F9D978" stroke="#333333" stroke-width="1.8"/>
<line x1="66.10000000000001" y1="458.468" x2="145.7" y2="458.468" stroke="#333333" stroke-width="3"/>
<line x1="194.2" y1="462.484" x2="194.2" y2="433.117" stroke="#2a2a2a" stroke-width="1.5"/>
<line x1="194.2" y1="465.747" x2="194.2" y2="466.5" stroke="#2a2a2a" stroke-width="1.5"/>
<line x1="172.2" y1="433.117" x2="216.2" y2="433.117" stroke="#1a1a1a" stroke-width="1.5"/>
<line x1="172.2" y1="466.5" x2="216.2" y2="466.5" stroke="#1a1a1a" stroke-width="1.5"/>
<rect x="154.0" y="462.484" width="80.4" height="3.2630000000000337" fill="#5CC4CD" stroke="#333333" stroke-width="1.8"/>
<line x1="154.0" y1="464.241" x2="234.39999999999998" y2="464.241" stroke="#333333" stroke-width="3"/>
<line x1="282.4" y1="464.492" x2="282.4" y2="463.99" stroke="#2a2a2a" stroke-width="1.5"/>
<line x1="282.4" y1="466.249" x2="282.4" y2="466.5" stroke="#2a2a2a" stroke-width="1.5"/>
<line x1="282.39" y1="463.99" x2="282.40999999999997" y2="463.99" stroke="#1a1a1a" stroke-width="1.5"/>
<line x1="282.39" y1="466.5" x2="282.40999999999997" y2="466.5" stroke="#1a1a1a" stroke-width="1.5"/>
<rect x="242.09999999999997" y="464.492" width="80.6" height="1.757000000000005" fill="#6E68AE" stroke="#333333" stroke-width="1.8"/>
<line x1="242.09999999999997" y1="465.496" x2="322.7" y2="465.496" stroke="#333333" stroke-width="3"/>
<circle cx="91.80" cy="396.20" r="3.7" fill="#F6C53A" stroke="#0b0b0b" stroke-width="1.3"/>
<circle cx="112.30" cy="415.10" r="3.7" fill="#F6C53A" stroke="#0b0b0b" stroke-width="1.3"/>
<circle cx="121.40" cy="415.70" r="3.7" fill="#F6C53A" stroke="#0b0b0b" stroke-width="1.3"/>
<circle cx="123.20" cy="414.60" r="3.7" fill="#F6C53A" stroke="#0b0b0b" stroke-width="1.3"/>
<circle cx="83.50" cy="424.40" r="3.7" fill="#F6C53A" stroke="#0b0b0b" stroke-width="1.3"/>
<circle cx="121.00" cy="423.30" r="3.7" fill="#F6C53A" stroke="#0b0b0b" stroke-width="1.3"/>
<circle cx="100.40" cy="430.40" r="3.7" fill="#F6C53A" stroke="#0b0b0b" stroke-width="1.3"/>
<circle cx="108.00" cy="431.30" r="3.7" fill="#F6C53A" stroke="#0b0b0b" stroke-width="1.3"/>
<circle cx="114.90" cy="441.70" r="3.7" fill="#F6C53A" stroke="#0b0b0b" stroke-width="1.3"/>
<circle cx="103.00" cy="446.70" r="3.7" fill="#F6C53A" stroke="#0b0b0b" stroke-width="1.3"/>
<circle cx="108.00" cy="444.90" r="3.7" fill="#F6C53A" stroke="#0b0b0b" stroke-width="1.3"/>
<circle cx="87.20" cy="451.40" r="3.7" fill="#F6C53A" stroke="#0b0b0b" stroke-width="1.3"/>
<circle cx="83.00" cy="456.30" r="3.7" fill="#F6C53A" stroke="#0b0b0b" stroke-width="1.3"/>
<circle cx="80.40" cy="458.90" r="3.7" fill="#F6C53A" stroke="#0b0b0b" stroke-width="1.3"/>
<circle cx="80.40" cy="462.90" r="3.7" fill="#F6C53A" stroke="#0b0b0b" stroke-width="1.3"/>
<circle cx="83.70" cy="462.90" r="3.7" fill="#F6C53A" stroke="#0b0b0b" stroke-width="1.3"/>
<circle cx="92.90" cy="458.30" r="3.7" fill="#F6C53A" stroke="#0b0b0b" stroke-width="1.3"/>
<circle cx="96.80" cy="458.90" r="3.7" fill="#F6C53A" stroke="#0b0b0b" stroke-width="1.3"/>
<circle cx="99.40" cy="462.90" r="3.7" fill="#F6C53A" stroke="#0b0b0b" stroke-width="1.3"/>
<circle cx="102.70" cy="453.70" r="3.7" fill="#F6C53A" stroke="#0b0b0b" stroke-width="1.3"/>
<circle cx="106.60" cy="455.00" r="3.7" fill="#F6C53A" stroke="#0b0b0b" stroke-width="1.3"/>
<circle cx="108.00" cy="459.60" r="3.7" fill="#F6C53A" stroke="#0b0b0b" stroke-width="1.3"/>
<circle cx="104.70" cy="463.50" r="3.7" fill="#F6C53A" stroke="#0b0b0b" stroke-width="1.3"/>
<circle cx="113.90" cy="458.30" r="3.7" fill="#F6C53A" stroke="#0b0b0b" stroke-width="1.3"/>
<circle cx="113.90" cy="462.90" r="3.7" fill="#F6C53A" stroke="#0b0b0b" stroke-width="1.3"/>
<circle cx="121.10" cy="456.30" r="3.7" fill="#F6C53A" stroke="#0b0b0b" stroke-width="1.3"/>
<circle cx="123.10" cy="460.90" r="3.7" fill="#F6C53A" stroke="#0b0b0b" stroke-width="1.3"/>
<circle cx="125.70" cy="463.50" r="3.7" fill="#F6C53A" stroke="#0b0b0b" stroke-width="1.3"/>
<circle cx="131.00" cy="453.70" r="3.7" fill="#F6C53A" stroke="#0b0b0b" stroke-width="1.3"/>
<circle cx="131.00" cy="459.60" r="3.7" fill="#F6C53A" stroke="#0b0b0b" stroke-width="1.3"/>
<circle cx="129.60" cy="463.50" r="3.7" fill="#F6C53A" stroke="#0b0b0b" stroke-width="1.3"/>
<circle cx="118.50" cy="462.90" r="3.7" fill="#F6C53A" stroke="#0b0b0b" stroke-width="1.3"/>
<circle cx="90.00" cy="463.50" r="3.7" fill="#F6C53A" stroke="#0b0b0b" stroke-width="1.3"/>
<circle cx="95.00" cy="464.00" r="3.7" fill="#F6C53A" stroke="#0b0b0b" stroke-width="1.3"/>
<circle cx="110.00" cy="464.00" r="3.7" fill="#F6C53A" stroke="#0b0b0b" stroke-width="1.3"/>
<circle cx="127.00" cy="458.00" r="3.7" fill="#F6C53A" stroke="#0b0b0b" stroke-width="1.3"/>
<circle cx="117.00" cy="455.00" r="3.7" fill="#F6C53A" stroke="#0b0b0b" stroke-width="1.3"/>
<circle cx="86.00" cy="460.00" r="3.7" fill="#F6C53A" stroke="#0b0b0b" stroke-width="1.3"/>
<circle cx="100.00" cy="457.00" r="3.7" fill="#F6C53A" stroke="#0b0b0b" stroke-width="1.3"/>
<circle cx="169.12" cy="462.24" r="3.7" fill="#1DA9B8" stroke="#0b0b0b" stroke-width="1.3"/>
<circle cx="197.94" cy="459.33" r="3.7" fill="#1DA9B8" stroke="#0b0b0b" stroke-width="1.3"/>
<circle cx="214.28" cy="463.29" r="3.7" fill="#1DA9B8" stroke="#0b0b0b" stroke-width="1.3"/>
<circle cx="199.10" cy="459.61" r="3.7" fill="#1DA9B8" stroke="#0b0b0b" stroke-width="1.3"/>
<circle cx="198.31" cy="457.71" r="3.7" fill="#1DA9B8" stroke="#0b0b0b" stroke-width="1.3"/>
<circle cx="218.01" cy="463.50" r="3.7" fill="#1DA9B8" stroke="#0b0b0b" stroke-width="1.3"/>
<circle cx="192.60" cy="463.50" r="3.7" fill="#1DA9B8" stroke="#0b0b0b" stroke-width="1.3"/>
<circle cx="204.88" cy="463.50" r="3.7" fill="#1DA9B8" stroke="#0b0b0b" stroke-width="1.3"/>
<circle cx="201.94" cy="457.65" r="3.7" fill="#1DA9B8" stroke="#0b0b0b" stroke-width="1.3"/>
<circle cx="182.37" cy="463.50" r="3.7" fill="#1DA9B8" stroke="#0b0b0b" stroke-width="1.3"/>
<circle cx="187.83" cy="463.50" r="3.7" fill="#1DA9B8" stroke="#0b0b0b" stroke-width="1.3"/>
<circle cx="191.93" cy="463.50" r="3.7" fill="#1DA9B8" stroke="#0b0b0b" stroke-width="1.3"/>
<circle cx="176.07" cy="463.50" r="3.7" fill="#1DA9B8" stroke="#0b0b0b" stroke-width="1.3"/>
<circle cx="208.48" cy="463.50" r="3.7" fill="#1DA9B8" stroke="#0b0b0b" stroke-width="1.3"/>
<circle cx="173.98" cy="463.50" r="3.7" fill="#1DA9B8" stroke="#0b0b0b" stroke-width="1.3"/>
<circle cx="214.06" cy="461.52" r="3.7" fill="#1DA9B8" stroke="#0b0b0b" stroke-width="1.3"/>
<circle cx="171.35" cy="460.60" r="3.7" fill="#1DA9B8" stroke="#0b0b0b" stroke-width="1.3"/>
<circle cx="214.70" cy="463.50" r="3.7" fill="#1DA9B8" stroke="#0b0b0b" stroke-width="1.3"/>
<circle cx="211.24" cy="463.50" r="3.7" fill="#1DA9B8" stroke="#0b0b0b" stroke-width="1.3"/>
<circle cx="189.43" cy="463.26" r="3.7" fill="#1DA9B8" stroke="#0b0b0b" stroke-width="1.3"/>
<circle cx="186.37" cy="457.55" r="3.7" fill="#1DA9B8" stroke="#0b0b0b" stroke-width="1.3"/>
<circle cx="175.15" cy="458.47" r="3.7" fill="#1DA9B8" stroke="#0b0b0b" stroke-width="1.3"/>
<circle cx="176.52" cy="463.50" r="3.7" fill="#1DA9B8" stroke="#0b0b0b" stroke-width="1.3"/>
<circle cx="193.19" cy="462.74" r="3.7" fill="#1DA9B8" stroke="#0b0b0b" stroke-width="1.3"/>
<circle cx="198.81" cy="463.50" r="3.7" fill="#1DA9B8" stroke="#0b0b0b" stroke-width="1.3"/>
<circle cx="189.62" cy="463.50" r="3.7" fill="#1DA9B8" stroke="#0b0b0b" stroke-width="1.3"/>
<circle cx="186.94" cy="455.82" r="3.7" fill="#1DA9B8" stroke="#0b0b0b" stroke-width="1.3"/>
<circle cx="204.29" cy="461.49" r="3.7" fill="#1DA9B8" stroke="#0b0b0b" stroke-width="1.3"/>
<circle cx="194.84" cy="461.00" r="3.7" fill="#1DA9B8" stroke="#0b0b0b" stroke-width="1.3"/>
<circle cx="169.92" cy="461.45" r="3.7" fill="#1DA9B8" stroke="#0b0b0b" stroke-width="1.3"/>
<circle cx="215.57" cy="463.50" r="3.7" fill="#1DA9B8" stroke="#0b0b0b" stroke-width="1.3"/>
<circle cx="210.09" cy="456.99" r="3.7" fill="#1DA9B8" stroke="#0b0b0b" stroke-width="1.3"/>
<circle cx="188.19" cy="463.50" r="3.7" fill="#1DA9B8" stroke="#0b0b0b" stroke-width="1.3"/>
<circle cx="201.25" cy="463.50" r="3.7" fill="#1DA9B8" stroke="#0b0b0b" stroke-width="1.3"/>
<circle cx="170.36" cy="463.19" r="3.7" fill="#1DA9B8" stroke="#0b0b0b" stroke-width="1.3"/>
<circle cx="175.76" cy="463.50" r="3.7" fill="#1DA9B8" stroke="#0b0b0b" stroke-width="1.3"/>
<circle cx="185.36" cy="463.50" r="3.7" fill="#1DA9B8" stroke="#0b0b0b" stroke-width="1.3"/>
<circle cx="175.17" cy="463.50" r="3.7" fill="#1DA9B8" stroke="#0b0b0b" stroke-width="1.3"/>
<circle cx="172.48" cy="463.50" r="3.7" fill="#1DA9B8" stroke="#0b0b0b" stroke-width="1.3"/>
<circle cx="214.21" cy="463.50" r="3.7" fill="#1DA9B8" stroke="#0b0b0b" stroke-width="1.3"/>
<circle cx="200.16" cy="463.50" r="3.7" fill="#1DA9B8" stroke="#0b0b0b" stroke-width="1.3"/>
<circle cx="185.76" cy="463.24" r="3.7" fill="#1DA9B8" stroke="#0b0b0b" stroke-width="1.3"/>
<circle cx="186.66" cy="459.73" r="3.7" fill="#1DA9B8" stroke="#0b0b0b" stroke-width="1.3"/>
<circle cx="220.63" cy="459.90" r="3.7" fill="#1DA9B8" stroke="#0b0b0b" stroke-width="1.3"/>
<circle cx="192.16" cy="463.50" r="3.7" fill="#1DA9B8" stroke="#0b0b0b" stroke-width="1.3"/>
<circle cx="172.52" cy="463.50" r="3.7" fill="#1DA9B8" stroke="#0b0b0b" stroke-width="1.3"/>
<circle cx="185.50" cy="463.50" r="3.7" fill="#1DA9B8" stroke="#0b0b0b" stroke-width="1.3"/>
<circle cx="175.72" cy="457.58" r="3.7" fill="#1DA9B8" stroke="#0b0b0b" stroke-width="1.3"/>
<circle cx="168.25" cy="460.74" r="3.7" fill="#1DA9B8" stroke="#0b0b0b" stroke-width="1.3"/>
<circle cx="174.92" cy="463.50" r="3.7" fill="#1DA9B8" stroke="#0b0b0b" stroke-width="1.3"/>
<circle cx="196.33" cy="460.56" r="3.7" fill="#1DA9B8" stroke="#0b0b0b" stroke-width="1.3"/>
<circle cx="219.84" cy="463.50" r="3.7" fill="#1DA9B8" stroke="#0b0b0b" stroke-width="1.3"/>
<circle cx="213.62" cy="463.50" r="3.7" fill="#1DA9B8" stroke="#0b0b0b" stroke-width="1.3"/>
<circle cx="186.80" cy="462.70" r="3.7" fill="#1DA9B8" stroke="#0b0b0b" stroke-width="1.3"/>
<circle cx="176.02" cy="463.50" r="3.7" fill="#1DA9B8" stroke="#0b0b0b" stroke-width="1.3"/>
<circle cx="209.07" cy="460.50" r="3.7" fill="#1DA9B8" stroke="#0b0b0b" stroke-width="1.3"/>
<circle cx="184.80" cy="463.50" r="3.7" fill="#1DA9B8" stroke="#0b0b0b" stroke-width="1.3"/>
<circle cx="220.19" cy="457.90" r="3.7" fill="#1DA9B8" stroke="#0b0b0b" stroke-width="1.3"/>
<circle cx="213.04" cy="463.13" r="3.7" fill="#1DA9B8" stroke="#0b0b0b" stroke-width="1.3"/>
<circle cx="206.95" cy="458.20" r="3.7" fill="#1DA9B8" stroke="#0b0b0b" stroke-width="1.3"/>
<circle cx="179.24" cy="461.81" r="3.7" fill="#1DA9B8" stroke="#0b0b0b" stroke-width="1.3"/>
<circle cx="168.56" cy="463.50" r="3.7" fill="#1DA9B8" stroke="#0b0b0b" stroke-width="1.3"/>
<circle cx="168.51" cy="463.50" r="3.7" fill="#1DA9B8" stroke="#0b0b0b" stroke-width="1.3"/>
<circle cx="204.40" cy="462.57" r="3.7" fill="#1DA9B8" stroke="#0b0b0b" stroke-width="1.3"/>
<circle cx="218.65" cy="455.99" r="3.7" fill="#1DA9B8" stroke="#0b0b0b" stroke-width="1.3"/>
<circle cx="220.35" cy="462.56" r="3.7" fill="#1DA9B8" stroke="#0b0b0b" stroke-width="1.3"/>
<circle cx="218.57" cy="463.50" r="3.7" fill="#1DA9B8" stroke="#0b0b0b" stroke-width="1.3"/>
<circle cx="179.25" cy="463.50" r="3.7" fill="#1DA9B8" stroke="#0b0b0b" stroke-width="1.3"/>
<circle cx="177.62" cy="463.50" r="3.7" fill="#1DA9B8" stroke="#0b0b0b" stroke-width="1.3"/>
<circle cx="215.62" cy="459.96" r="3.7" fill="#1DA9B8" stroke="#0b0b0b" stroke-width="1.3"/>
<circle cx="212.38" cy="459.51" r="3.7" fill="#1DA9B8" stroke="#0b0b0b" stroke-width="1.3"/>
<circle cx="210.18" cy="463.50" r="3.7" fill="#1DA9B8" stroke="#0b0b0b" stroke-width="1.3"/>
<circle cx="171.58" cy="460.74" r="3.7" fill="#1DA9B8" stroke="#0b0b0b" stroke-width="1.3"/>
<circle cx="209.24" cy="457.65" r="3.7" fill="#1DA9B8" stroke="#0b0b0b" stroke-width="1.3"/>
<circle cx="207.51" cy="463.20" r="3.7" fill="#1DA9B8" stroke="#0b0b0b" stroke-width="1.3"/>
<circle cx="209.61" cy="463.50" r="3.7" fill="#1DA9B8" stroke="#0b0b0b" stroke-width="1.3"/>
<circle cx="184.96" cy="462.23" r="3.7" fill="#1DA9B8" stroke="#0b0b0b" stroke-width="1.3"/>
<circle cx="188.38" cy="454.59" r="3.7" fill="#1DA9B8" stroke="#0b0b0b" stroke-width="1.3"/>
<circle cx="188.67" cy="459.17" r="3.7" fill="#1DA9B8" stroke="#0b0b0b" stroke-width="1.3"/>
<circle cx="176.18" cy="463.50" r="3.7" fill="#1DA9B8" stroke="#0b0b0b" stroke-width="1.3"/>
<circle cx="173.86" cy="460.32" r="3.7" fill="#1DA9B8" stroke="#0b0b0b" stroke-width="1.3"/>
<circle cx="210.55" cy="458.06" r="3.7" fill="#1DA9B8" stroke="#0b0b0b" stroke-width="1.3"/>
<circle cx="174.89" cy="460.17" r="3.7" fill="#1DA9B8" stroke="#0b0b0b" stroke-width="1.3"/>
<circle cx="202.49" cy="454.82" r="3.7" fill="#1DA9B8" stroke="#0b0b0b" stroke-width="1.3"/>
<circle cx="185.92" cy="463.50" r="3.7" fill="#1DA9B8" stroke="#0b0b0b" stroke-width="1.3"/>
<circle cx="167.77" cy="463.50" r="3.7" fill="#1DA9B8" stroke="#0b0b0b" stroke-width="1.3"/>
<circle cx="219.43" cy="462.76" r="3.7" fill="#1DA9B8" stroke="#0b0b0b" stroke-width="1.3"/>
<circle cx="217.42" cy="461.55" r="3.7" fill="#1DA9B8" stroke="#0b0b0b" stroke-width="1.3"/>
<circle cx="190.43" cy="460.17" r="3.7" fill="#1DA9B8" stroke="#0b0b0b" stroke-width="1.3"/>
<circle cx="178.40" cy="459.93" r="3.7" fill="#1DA9B8" stroke="#0b0b0b" stroke-width="1.3"/>
<circle cx="180.60" cy="463.50" r="3.7" fill="#1DA9B8" stroke="#0b0b0b" stroke-width="1.3"/>
<circle cx="198.67" cy="462.78" r="3.7" fill="#1DA9B8" stroke="#0b0b0b" stroke-width="1.3"/>
<circle cx="181.01" cy="463.50" r="3.7" fill="#1DA9B8" stroke="#0b0b0b" stroke-width="1.3"/>
<circle cx="216.14" cy="463.50" r="3.7" fill="#1DA9B8" stroke="#0b0b0b" stroke-width="1.3"/>
<circle cx="186.10" cy="460.25" r="3.7" fill="#1DA9B8" stroke="#0b0b0b" stroke-width="1.3"/>
<circle cx="215.83" cy="463.50" r="3.7" fill="#1DA9B8" stroke="#0b0b0b" stroke-width="1.3"/>
<circle cx="189.71" cy="461.38" r="3.7" fill="#1DA9B8" stroke="#0b0b0b" stroke-width="1.3"/>
<circle cx="195.72" cy="463.38" r="3.7" fill="#1DA9B8" stroke="#0b0b0b" stroke-width="1.3"/>
<circle cx="195.27" cy="461.19" r="3.7" fill="#1DA9B8" stroke="#0b0b0b" stroke-width="1.3"/>
<circle cx="176.89" cy="463.50" r="3.7" fill="#1DA9B8" stroke="#0b0b0b" stroke-width="1.3"/>
<circle cx="167.21" cy="463.50" r="3.7" fill="#1DA9B8" stroke="#0b0b0b" stroke-width="1.3"/>
<circle cx="192.57" cy="463.36" r="3.7" fill="#1DA9B8" stroke="#0b0b0b" stroke-width="1.3"/>
<circle cx="206.16" cy="462.25" r="3.7" fill="#1DA9B8" stroke="#0b0b0b" stroke-width="1.3"/>
<circle cx="194.99" cy="463.50" r="3.7" fill="#1DA9B8" stroke="#0b0b0b" stroke-width="1.3"/>
<circle cx="196.99" cy="463.50" r="3.7" fill="#1DA9B8" stroke="#0b0b0b" stroke-width="1.3"/>
<circle cx="197.26" cy="463.50" r="3.7" fill="#1DA9B8" stroke="#0b0b0b" stroke-width="1.3"/>
<circle cx="180.42" cy="463.50" r="3.7" fill="#1DA9B8" stroke="#0b0b0b" stroke-width="1.3"/>
<circle cx="194.42" cy="458.37" r="3.7" fill="#1DA9B8" stroke="#0b0b0b" stroke-width="1.3"/>
<circle cx="197.33" cy="463.50" r="3.7" fill="#1DA9B8" stroke="#0b0b0b" stroke-width="1.3"/>
<circle cx="190.94" cy="456.09" r="3.7" fill="#1DA9B8" stroke="#0b0b0b" stroke-width="1.3"/>
<circle cx="200.08" cy="460.61" r="3.7" fill="#1DA9B8" stroke="#0b0b0b" stroke-width="1.3"/>
<circle cx="204.41" cy="463.50" r="3.7" fill="#1DA9B8" stroke="#0b0b0b" stroke-width="1.3"/>
<circle cx="191.43" cy="460.98" r="3.7" fill="#1DA9B8" stroke="#0b0b0b" stroke-width="1.3"/>
<circle cx="217.84" cy="463.50" r="3.7" fill="#1DA9B8" stroke="#0b0b0b" stroke-width="1.3"/>
<circle cx="204.76" cy="458.33" r="3.7" fill="#1DA9B8" stroke="#0b0b0b" stroke-width="1.3"/>
<circle cx="181.02" cy="458.48" r="3.7" fill="#1DA9B8" stroke="#0b0b0b" stroke-width="1.3"/>
<circle cx="197.21" cy="457.93" r="3.7" fill="#1DA9B8" stroke="#0b0b0b" stroke-width="1.3"/>
<circle cx="174.41" cy="462.99" r="3.7" fill="#1DA9B8" stroke="#0b0b0b" stroke-width="1.3"/>
<circle cx="173.57" cy="463.50" r="3.7" fill="#1DA9B8" stroke="#0b0b0b" stroke-width="1.3"/>
<circle cx="179.99" cy="463.50" r="3.7" fill="#1DA9B8" stroke="#0b0b0b" stroke-width="1.3"/>
<circle cx="170.95" cy="462.18" r="3.7" fill="#1DA9B8" stroke="#0b0b0b" stroke-width="1.3"/>
<circle cx="215.44" cy="459.11" r="3.7" fill="#1DA9B8" stroke="#0b0b0b" stroke-width="1.3"/>
<circle cx="175.34" cy="463.50" r="3.7" fill="#1DA9B8" stroke="#0b0b0b" stroke-width="1.3"/>
<circle cx="174.72" cy="459.54" r="3.7" fill="#1DA9B8" stroke="#0b0b0b" stroke-width="1.3"/>
<circle cx="214.67" cy="462.90" r="3.7" fill="#1DA9B8" stroke="#0b0b0b" stroke-width="1.3"/>
<circle cx="218.44" cy="463.50" r="3.7" fill="#1DA9B8" stroke="#0b0b0b" stroke-width="1.3"/>
<circle cx="188.51" cy="452.41" r="3.7" fill="#1DA9B8" stroke="#0b0b0b" stroke-width="1.3"/>
<circle cx="211.95" cy="463.50" r="3.7" fill="#1DA9B8" stroke="#0b0b0b" stroke-width="1.3"/>
<circle cx="175.72" cy="461.08" r="3.7" fill="#1DA9B8" stroke="#0b0b0b" stroke-width="1.3"/>
<circle cx="185.31" cy="463.50" r="3.7" fill="#1DA9B8" stroke="#0b0b0b" stroke-width="1.3"/>
<circle cx="177.57" cy="462.99" r="3.7" fill="#1DA9B8" stroke="#0b0b0b" stroke-width="1.3"/>
<circle cx="168.05" cy="459.46" r="3.7" fill="#1DA9B8" stroke="#0b0b0b" stroke-width="1.3"/>
<circle cx="196.92" cy="463.50" r="3.7" fill="#1DA9B8" stroke="#0b0b0b" stroke-width="1.3"/>
<circle cx="184.90" cy="463.50" r="3.7" fill="#1DA9B8" stroke="#0b0b0b" stroke-width="1.3"/>
<circle cx="200.69" cy="463.50" r="3.7" fill="#1DA9B8" stroke="#0b0b0b" stroke-width="1.3"/>
<circle cx="220.19" cy="463.50" r="3.7" fill="#1DA9B8" stroke="#0b0b0b" stroke-width="1.3"/>
<circle cx="209.57" cy="463.50" r="3.7" fill="#1DA9B8" stroke="#0b0b0b" stroke-width="1.3"/>
<circle cx="181.34" cy="463.50" r="3.7" fill="#1DA9B8" stroke="#0b0b0b" stroke-width="1.3"/>
<circle cx="169.14" cy="463.50" r="3.7" fill="#1DA9B8" stroke="#0b0b0b" stroke-width="1.3"/>
<circle cx="174.00" cy="462.49" r="3.7" fill="#1DA9B8" stroke="#0b0b0b" stroke-width="1.3"/>
<circle cx="189.80" cy="458.94" r="3.7" fill="#1DA9B8" stroke="#0b0b0b" stroke-width="1.3"/>
<circle cx="180.96" cy="461.60" r="3.7" fill="#1DA9B8" stroke="#0b0b0b" stroke-width="1.3"/>
<circle cx="175.07" cy="460.89" r="3.7" fill="#1DA9B8" stroke="#0b0b0b" stroke-width="1.3"/>
<circle cx="204.82" cy="463.15" r="3.7" fill="#1DA9B8" stroke="#0b0b0b" stroke-width="1.3"/>
<circle cx="171.83" cy="459.57" r="3.7" fill="#1DA9B8" stroke="#0b0b0b" stroke-width="1.3"/>
<circle cx="189.97" cy="463.50" r="3.7" fill="#1DA9B8" stroke="#0b0b0b" stroke-width="1.3"/>
<circle cx="170.91" cy="460.09" r="3.7" fill="#1DA9B8" stroke="#0b0b0b" stroke-width="1.3"/>
<circle cx="210.29" cy="463.50" r="3.7" fill="#1DA9B8" stroke="#0b0b0b" stroke-width="1.3"/>
<circle cx="171.52" cy="463.50" r="3.7" fill="#1DA9B8" stroke="#0b0b0b" stroke-width="1.3"/>
<circle cx="213.59" cy="463.50" r="3.7" fill="#1DA9B8" stroke="#0b0b0b" stroke-width="1.3"/>
<circle cx="169.50" cy="313.40" r="3.7" fill="#1DA9B8" stroke="#0b0b0b" stroke-width="1.3"/>
<circle cx="175.10" cy="326.40" r="3.7" fill="#1DA9B8" stroke="#0b0b0b" stroke-width="1.3"/>
<circle cx="185.00" cy="330.90" r="3.7" fill="#1DA9B8" stroke="#0b0b0b" stroke-width="1.3"/>
<circle cx="187.40" cy="328.90" r="3.7" fill="#1DA9B8" stroke="#0b0b0b" stroke-width="1.3"/>
<circle cx="171.30" cy="344.70" r="3.7" fill="#1DA9B8" stroke="#0b0b0b" stroke-width="1.3"/>
<circle cx="201.90" cy="340.60" r="3.7" fill="#1DA9B8" stroke="#0b0b0b" stroke-width="1.3"/>
<circle cx="206.00" cy="340.20" r="3.7" fill="#1DA9B8" stroke="#0b0b0b" stroke-width="1.3"/>
<circle cx="215.70" cy="340.80" r="3.7" fill="#1DA9B8" stroke="#0b0b0b" stroke-width="1.3"/>
<circle cx="203.50" cy="350.90" r="3.7" fill="#1DA9B8" stroke="#0b0b0b" stroke-width="1.3"/>
<circle cx="209.50" cy="359.80" r="3.7" fill="#1DA9B8" stroke="#0b0b0b" stroke-width="1.3"/>
<circle cx="214.20" cy="361.40" r="3.7" fill="#1DA9B8" stroke="#0b0b0b" stroke-width="1.3"/>
<circle cx="217.70" cy="361.90" r="3.7" fill="#1DA9B8" stroke="#0b0b0b" stroke-width="1.3"/>
<circle cx="200.80" cy="372.20" r="3.7" fill="#1DA9B8" stroke="#0b0b0b" stroke-width="1.3"/>
<circle cx="206.00" cy="375.90" r="3.7" fill="#1DA9B8" stroke="#0b0b0b" stroke-width="1.3"/>
<circle cx="185.80" cy="389.50" r="3.7" fill="#1DA9B8" stroke="#0b0b0b" stroke-width="1.3"/>
<circle cx="187.00" cy="395.90" r="3.7" fill="#1DA9B8" stroke="#0b0b0b" stroke-width="1.3"/>
<circle cx="208.50" cy="392.80" r="3.7" fill="#1DA9B8" stroke="#0b0b0b" stroke-width="1.3"/>
<circle cx="215.90" cy="393.70" r="3.7" fill="#1DA9B8" stroke="#0b0b0b" stroke-width="1.3"/>
<circle cx="179.20" cy="408.70" r="3.7" fill="#1DA9B8" stroke="#0b0b0b" stroke-width="1.3"/>
<circle cx="187.80" cy="405.60" r="3.7" fill="#1DA9B8" stroke="#0b0b0b" stroke-width="1.3"/>
<circle cx="192.00" cy="410.80" r="3.7" fill="#1DA9B8" stroke="#0b0b0b" stroke-width="1.3"/>
<circle cx="196.70" cy="408.70" r="3.7" fill="#1DA9B8" stroke="#0b0b0b" stroke-width="1.3"/>
<circle cx="195.70" cy="414.90" r="3.7" fill="#1DA9B8" stroke="#0b0b0b" stroke-width="1.3"/>
<circle cx="187.00" cy="418.40" r="3.7" fill="#1DA9B8" stroke="#0b0b0b" stroke-width="1.3"/>
<circle cx="190.10" cy="422.10" r="3.7" fill="#1DA9B8" stroke="#0b0b0b" stroke-width="1.3"/>
<circle cx="194.00" cy="420.50" r="3.7" fill="#1DA9B8" stroke="#0b0b0b" stroke-width="1.3"/>
<circle cx="190.00" cy="422.90" r="3.7" fill="#1DA9B8" stroke="#0b0b0b" stroke-width="1.3"/>
<circle cx="190.50" cy="433.50" r="3.7" fill="#1DA9B8" stroke="#0b0b0b" stroke-width="1.3"/>
<circle cx="197.70" cy="432.80" r="3.7" fill="#1DA9B8" stroke="#0b0b0b" stroke-width="1.3"/>
<circle cx="212.60" cy="432.80" r="3.7" fill="#1DA9B8" stroke="#0b0b0b" stroke-width="1.3"/>
<circle cx="219.40" cy="428.30" r="3.7" fill="#1DA9B8" stroke="#0b0b0b" stroke-width="1.3"/>
<circle cx="219.80" cy="434.50" r="3.7" fill="#1DA9B8" stroke="#0b0b0b" stroke-width="1.3"/>
<circle cx="185.80" cy="442.30" r="3.7" fill="#1DA9B8" stroke="#0b0b0b" stroke-width="1.3"/>
<circle cx="183.90" cy="447.30" r="3.7" fill="#1DA9B8" stroke="#0b0b0b" stroke-width="1.3"/>
<circle cx="205.00" cy="440.30" r="3.7" fill="#1DA9B8" stroke="#0b0b0b" stroke-width="1.3"/>
<circle cx="214.60" cy="445.80" r="3.7" fill="#1DA9B8" stroke="#0b0b0b" stroke-width="1.3"/>
<circle cx="211.10" cy="450.60" r="3.7" fill="#1DA9B8" stroke="#0b0b0b" stroke-width="1.3"/>
<circle cx="203.50" cy="452.60" r="3.7" fill="#1DA9B8" stroke="#0b0b0b" stroke-width="1.3"/>
<circle cx="219.40" cy="455.10" r="3.7" fill="#1DA9B8" stroke="#0b0b0b" stroke-width="1.3"/>
<circle cx="167.80" cy="452.60" r="3.7" fill="#1DA9B8" stroke="#0b0b0b" stroke-width="1.3"/>
<circle cx="167.30" cy="456.20" r="3.7" fill="#1DA9B8" stroke="#0b0b0b" stroke-width="1.3"/>
<circle cx="166.70" cy="460.30" r="3.7" fill="#1DA9B8" stroke="#0b0b0b" stroke-width="1.3"/>
<circle cx="169.60" cy="462.60" r="3.7" fill="#1DA9B8" stroke="#0b0b0b" stroke-width="1.3"/>
<circle cx="172.50" cy="458.00" r="3.7" fill="#1DA9B8" stroke="#0b0b0b" stroke-width="1.3"/>
<circle cx="176.00" cy="462.60" r="3.7" fill="#1DA9B8" stroke="#0b0b0b" stroke-width="1.3"/>
<circle cx="177.20" cy="459.70" r="3.7" fill="#1DA9B8" stroke="#0b0b0b" stroke-width="1.3"/>
<circle cx="181.30" cy="457.40" r="3.7" fill="#1DA9B8" stroke="#0b0b0b" stroke-width="1.3"/>
<circle cx="186.00" cy="462.60" r="3.7" fill="#1DA9B8" stroke="#0b0b0b" stroke-width="1.3"/>
<circle cx="188.30" cy="456.20" r="3.7" fill="#1DA9B8" stroke="#0b0b0b" stroke-width="1.3"/>
<circle cx="191.20" cy="459.70" r="3.7" fill="#1DA9B8" stroke="#0b0b0b" stroke-width="1.3"/>
<circle cx="192.40" cy="462.60" r="3.7" fill="#1DA9B8" stroke="#0b0b0b" stroke-width="1.3"/>
<circle cx="195.30" cy="458.50" r="3.7" fill="#1DA9B8" stroke="#0b0b0b" stroke-width="1.3"/>
<circle cx="198.20" cy="462.60" r="3.7" fill="#1DA9B8" stroke="#0b0b0b" stroke-width="1.3"/>
<circle cx="201.70" cy="459.70" r="3.7" fill="#1DA9B8" stroke="#0b0b0b" stroke-width="1.3"/>
<circle cx="205.20" cy="461.50" r="3.7" fill="#1DA9B8" stroke="#0b0b0b" stroke-width="1.3"/>
<circle cx="208.70" cy="463.20" r="3.7" fill="#1DA9B8" stroke="#0b0b0b" stroke-width="1.3"/>
<circle cx="211.10" cy="459.70" r="3.7" fill="#1DA9B8" stroke="#0b0b0b" stroke-width="1.3"/>
<circle cx="214.60" cy="462.60" r="3.7" fill="#1DA9B8" stroke="#0b0b0b" stroke-width="1.3"/>
<circle cx="218.10" cy="460.30" r="3.7" fill="#1DA9B8" stroke="#0b0b0b" stroke-width="1.3"/>
<circle cx="220.40" cy="463.20" r="3.7" fill="#1DA9B8" stroke="#0b0b0b" stroke-width="1.3"/>
<circle cx="271.82" cy="463.58" r="3.7" fill="#2E2C89" stroke="#0b0b0b" stroke-width="1.3"/>
<circle cx="258.17" cy="463.06" r="3.7" fill="#2E2C89" stroke="#0b0b0b" stroke-width="1.3"/>
<circle cx="260.67" cy="464.00" r="3.7" fill="#2E2C89" stroke="#0b0b0b" stroke-width="1.3"/>
<circle cx="256.26" cy="463.66" r="3.7" fill="#2E2C89" stroke="#0b0b0b" stroke-width="1.3"/>
<circle cx="266.45" cy="464.26" r="3.7" fill="#2E2C89" stroke="#0b0b0b" stroke-width="1.3"/>
<circle cx="280.68" cy="464.26" r="3.7" fill="#2E2C89" stroke="#0b0b0b" stroke-width="1.3"/>
<circle cx="256.06" cy="463.95" r="3.7" fill="#2E2C89" stroke="#0b0b0b" stroke-width="1.3"/>
<circle cx="272.10" cy="463.89" r="3.7" fill="#2E2C89" stroke="#0b0b0b" stroke-width="1.3"/>
<circle cx="268.71" cy="465.41" r="3.7" fill="#2E2C89" stroke="#0b0b0b" stroke-width="1.3"/>
<circle cx="306.58" cy="464.37" r="3.7" fill="#2E2C89" stroke="#0b0b0b" stroke-width="1.3"/>
<circle cx="269.69" cy="465.40" r="3.7" fill="#2E2C89" stroke="#0b0b0b" stroke-width="1.3"/>
<circle cx="264.19" cy="464.11" r="3.7" fill="#2E2C89" stroke="#0b0b0b" stroke-width="1.3"/>
<circle cx="271.24" cy="464.15" r="3.7" fill="#2E2C89" stroke="#0b0b0b" stroke-width="1.3"/>
<circle cx="270.66" cy="463.61" r="3.7" fill="#2E2C89" stroke="#0b0b0b" stroke-width="1.3"/>
<circle cx="301.27" cy="464.68" r="3.7" fill="#2E2C89" stroke="#0b0b0b" stroke-width="1.3"/>
<circle cx="260.39" cy="465.10" r="3.7" fill="#2E2C89" stroke="#0b0b0b" stroke-width="1.3"/>
<circle cx="269.29" cy="463.41" r="3.7" fill="#2E2C89" stroke="#0b0b0b" stroke-width="1.3"/>
<circle cx="259.68" cy="464.85" r="3.7" fill="#2E2C89" stroke="#0b0b0b" stroke-width="1.3"/>
<circle cx="258.83" cy="463.32" r="3.7" fill="#2E2C89" stroke="#0b0b0b" stroke-width="1.3"/>
<circle cx="277.04" cy="463.87" r="3.7" fill="#2E2C89" stroke="#0b0b0b" stroke-width="1.3"/>
<circle cx="292.75" cy="464.59" r="3.7" fill="#2E2C89" stroke="#0b0b0b" stroke-width="1.3"/>
<circle cx="273.82" cy="465.08" r="3.7" fill="#2E2C89" stroke="#0b0b0b" stroke-width="1.3"/>
<circle cx="291.76" cy="465.46" r="3.7" fill="#2E2C89" stroke="#0b0b0b" stroke-width="1.3"/>
<circle cx="276.44" cy="464.27" r="3.7" fill="#2E2C89" stroke="#0b0b0b" stroke-width="1.3"/>
<circle cx="281.74" cy="465.09" r="3.7" fill="#2E2C89" stroke="#0b0b0b" stroke-width="1.3"/>
<circle cx="298.58" cy="464.08" r="3.7" fill="#2E2C89" stroke="#0b0b0b" stroke-width="1.3"/>
<circle cx="304.60" cy="463.27" r="3.7" fill="#2E2C89" stroke="#0b0b0b" stroke-width="1.3"/>
<circle cx="265.85" cy="464.19" r="3.7" fill="#2E2C89" stroke="#0b0b0b" stroke-width="1.3"/>
<circle cx="294.12" cy="464.38" r="3.7" fill="#2E2C89" stroke="#0b0b0b" stroke-width="1.3"/>
<circle cx="269.02" cy="463.04" r="3.7" fill="#2E2C89" stroke="#0b0b0b" stroke-width="1.3"/>
<circle cx="274.04" cy="463.05" r="3.7" fill="#2E2C89" stroke="#0b0b0b" stroke-width="1.3"/>
<circle cx="282.00" cy="463.44" r="3.7" fill="#2E2C89" stroke="#0b0b0b" stroke-width="1.3"/>
<circle cx="295.49" cy="463.72" r="3.7" fill="#2E2C89" stroke="#0b0b0b" stroke-width="1.3"/>
<circle cx="272.22" cy="463.76" r="3.7" fill="#2E2C89" stroke="#0b0b0b" stroke-width="1.3"/>
<circle cx="258.62" cy="463.50" r="3.7" fill="#2E2C89" stroke="#0b0b0b" stroke-width="1.3"/>
<circle cx="261.69" cy="463.40" r="3.7" fill="#2E2C89" stroke="#0b0b0b" stroke-width="1.3"/>
<circle cx="283.40" cy="463.60" r="3.7" fill="#2E2C89" stroke="#0b0b0b" stroke-width="1.3"/>
<circle cx="269.93" cy="463.32" r="3.7" fill="#2E2C89" stroke="#0b0b0b" stroke-width="1.3"/>
<circle cx="284.76" cy="465.32" r="3.7" fill="#2E2C89" stroke="#0b0b0b" stroke-width="1.3"/>
<circle cx="279.60" cy="463.85" r="3.7" fill="#2E2C89" stroke="#0b0b0b" stroke-width="1.3"/>
<circle cx="261.00" cy="458.30" r="3.7" fill="#2E2C89" stroke="#0b0b0b" stroke-width="1.3"/>
<circle cx="258.90" cy="463.30" r="3.7" fill="#2E2C89" stroke="#0b0b0b" stroke-width="1.3"/>
<circle cx="265.30" cy="464.50" r="3.7" fill="#2E2C89" stroke="#0b0b0b" stroke-width="1.3"/>
<circle cx="273.60" cy="462.80" r="3.7" fill="#2E2C89" stroke="#0b0b0b" stroke-width="1.3"/>
<circle cx="277.80" cy="462.00" r="3.7" fill="#2E2C89" stroke="#0b0b0b" stroke-width="1.3"/>
<circle cx="282.00" cy="462.00" r="3.7" fill="#2E2C89" stroke="#0b0b0b" stroke-width="1.3"/>
<circle cx="282.90" cy="464.50" r="3.7" fill="#2E2C89" stroke="#0b0b0b" stroke-width="1.3"/>
<circle cx="287.90" cy="464.00" r="3.7" fill="#2E2C89" stroke="#0b0b0b" stroke-width="1.3"/>
<circle cx="295.50" cy="464.50" r="3.7" fill="#2E2C89" stroke="#0b0b0b" stroke-width="1.3"/>
<circle cx="301.30" cy="463.30" r="3.7" fill="#2E2C89" stroke="#0b0b0b" stroke-width="1.3"/>
<circle cx="306.40" cy="464.10" r="3.7" fill="#2E2C89" stroke="#0b0b0b" stroke-width="1.3"/>
</g>
<line x1="52.50" y1="290.00" x2="52.50" y2="467.40" stroke="#0d0d0d" stroke-width="1.9"/>
<line x1="51.60" y1="466.50" x2="336.00" y2="466.50" stroke="#0d0d0d" stroke-width="1.8"/>
<line x1="105.90" y1="466.50" x2="105.90" y2="470.60" stroke="#111" stroke-width="1.5"/>
<line x1="194.20" y1="466.50" x2="194.20" y2="470.60" stroke="#111" stroke-width="1.5"/>
<line x1="282.40" y1="466.50" x2="282.40" y2="470.60" stroke="#111" stroke-width="1.5"/>
<text x="105.50" y="481.70" font-size="10.7" fill="#1e1e1e" text-anchor="middle" textLength="68.6" lengthAdjust="spacingAndGlyphs">Gulf of Mexico</text>
<text x="194.20" y="481.70" font-size="10.7" fill="#1e1e1e" text-anchor="middle" textLength="48.5" lengthAdjust="spacingAndGlyphs">Black Sea</text>
<text x="282.50" y="481.70" font-size="10.7" fill="#1e1e1e" text-anchor="middle" textLength="59.6" lengthAdjust="spacingAndGlyphs">Angola Gyre</text>
<text x="104.80" y="306.30" font-size="10.5" fill="#1e1e1e" text-anchor="middle" textLength="30.6" lengthAdjust="spacingAndGlyphs">n = 43</text>
<text x="192.70" y="306.30" font-size="10.5" fill="#1e1e1e" text-anchor="middle" textLength="36.8" lengthAdjust="spacingAndGlyphs">n = 290</text>
<text x="281.20" y="306.30" font-size="10.5" fill="#1e1e1e" text-anchor="middle" textLength="29.7" lengthAdjust="spacingAndGlyphs">n = 57</text>
<line x1="105.90" y1="271.40" x2="282.50" y2="271.40" stroke="#161616" stroke-width="1.7"/>
<line x1="105.90" y1="289.60" x2="193.80" y2="289.60" stroke="#161616" stroke-width="1.7"/>
<text x="193.60" y="267.60" font-size="10.5" fill="#1e1e1e" text-anchor="middle" textLength="12.3" lengthAdjust="spacingAndGlyphs">***</text>
<text x="149.80" y="285.60" font-size="10.5" fill="#1e1e1e" text-anchor="middle" textLength="12.3" lengthAdjust="spacingAndGlyphs">***</text>
<text x="10.40" y="367.50" font-size="10.8" fill="#1e1e1e" text-anchor="middle" textLength="88" lengthAdjust="spacingAndGlyphs" transform="rotate(-90 10.40 367.50)">Ammonium (µM-N)</text>
<text x="348.70" y="276.80" font-size="10.5" fill="#111" text-anchor="start" font-weight="bold">d</text>
<line x1="397.40" y1="291.90" x2="401.80" y2="291.90" stroke="#111" stroke-width="1.5"/>
<text x="394.30" y="295.50" font-size="10" fill="#1e1e1e" text-anchor="end" textLength="14.8" lengthAdjust="spacingAndGlyphs">0.5</text>
<line x1="397.40" y1="326.74" x2="401.80" y2="326.74" stroke="#111" stroke-width="1.5"/>
<text x="394.30" y="330.34" font-size="10" fill="#1e1e1e" text-anchor="end" textLength="14.8" lengthAdjust="spacingAndGlyphs">0.4</text>
<line x1="397.40" y1="361.58" x2="401.80" y2="361.58" stroke="#111" stroke-width="1.5"/>
<text x="394.30" y="365.18" font-size="10" fill="#1e1e1e" text-anchor="end" textLength="14.8" lengthAdjust="spacingAndGlyphs">0.3</text>
<line x1="397.40" y1="396.42" x2="401.80" y2="396.42" stroke="#111" stroke-width="1.5"/>
<text x="394.30" y="400.02" font-size="10" fill="#1e1e1e" text-anchor="end" textLength="14.8" lengthAdjust="spacingAndGlyphs">0.2</text>
<line x1="397.40" y1="431.26" x2="401.80" y2="431.26" stroke="#111" stroke-width="1.5"/>
<text x="394.30" y="434.86" font-size="10" fill="#1e1e1e" text-anchor="end" textLength="14.8" lengthAdjust="spacingAndGlyphs">0.1</text>
<line x1="397.40" y1="466.10" x2="401.80" y2="466.10" stroke="#111" stroke-width="1.5"/>
<text x="394.30" y="469.70" font-size="10" fill="#1e1e1e" text-anchor="end" textLength="14.8" lengthAdjust="spacingAndGlyphs">0.0</text>
<clipPath id="clipd"><rect x="402" y="250" width="283" height="215.2"/></clipPath><g clip-path="url(#clipd)">
<line x1="454.5" y1="404.9558" x2="454.5" y2="380.742" stroke="#2a2a2a" stroke-width="1.5"/>
<line x1="454.5" y1="432.8278" x2="454.5" y2="444.1508" stroke="#2a2a2a" stroke-width="1.5"/>
<line x1="432.5" y1="380.742" x2="476.5" y2="380.742" stroke="#1a1a1a" stroke-width="1.5"/>
<line x1="432.5" y1="444.1508" x2="476.5" y2="444.1508" stroke="#1a1a1a" stroke-width="1.5"/>
<rect x="414.3" y="404.9558" width="80.4" height="27.872000000000014" fill="#F9D978" stroke="#333333" stroke-width="1.8"/>
<line x1="414.3" y1="418.0208" x2="494.7" y2="418.0208" stroke="#333333" stroke-width="3"/>
<line x1="543.4" y1="404.9558" x2="543.4" y2="384.226" stroke="#2a2a2a" stroke-width="1.5"/>
<line x1="543.4" y1="436.3118" x2="543.4" y2="450.94460000000004" stroke="#2a2a2a" stroke-width="1.5"/>
<line x1="521.4" y1="384.226" x2="565.4" y2="384.226" stroke="#1a1a1a" stroke-width="1.5"/>
<line x1="521.4" y1="450.94460000000004" x2="565.4" y2="450.94460000000004" stroke="#1a1a1a" stroke-width="1.5"/>
<rect x="503.2" y="404.9558" width="80.4" height="31.355999999999995" fill="#5CC4CD" stroke="#333333" stroke-width="1.8"/>
<line x1="503.2" y1="420.4596" x2="583.6" y2="420.4596" stroke="#333333" stroke-width="3"/>
<line x1="631.8" y1="431.01612" x2="631.8" y2="378.30320000000006" stroke="#2a2a2a" stroke-width="1.5"/>
<line x1="631.8" y1="462.7902" x2="631.8" y2="466.1" stroke="#2a2a2a" stroke-width="1.5"/>
<line x1="609.8" y1="378.30320000000006" x2="653.8" y2="378.30320000000006" stroke="#1a1a1a" stroke-width="1.5"/>
<line x1="609.8" y1="466.1" x2="653.8" y2="466.1" stroke="#1a1a1a" stroke-width="1.5"/>
<rect x="592.0999999999999" y="431.01612" width="79.4" height="31.774080000000026" fill="#6E68AE" stroke="#333333" stroke-width="1.8"/>
<line x1="592.0999999999999" y1="449.02840000000003" x2="671.5" y2="449.02840000000003" stroke="#333333" stroke-width="3"/>
<circle cx="455.50" cy="331.80" r="3.7" fill="#F6C53A" stroke="#0b0b0b" stroke-width="1.3"/>
<circle cx="458.20" cy="331.80" r="3.7" fill="#F6C53A" stroke="#0b0b0b" stroke-width="1.3"/>
<circle cx="458.20" cy="348.90" r="3.7" fill="#F6C53A" stroke="#0b0b0b" stroke-width="1.3"/>
<circle cx="454.50" cy="378.40" r="3.7" fill="#F6C53A" stroke="#0b0b0b" stroke-width="1.3"/>
<circle cx="450.80" cy="380.20" r="3.7" fill="#F6C53A" stroke="#0b0b0b" stroke-width="1.3"/>
<circle cx="445.20" cy="383.90" r="3.7" fill="#F6C53A" stroke="#0b0b0b" stroke-width="1.3"/>
<circle cx="439.40" cy="391.50" r="3.7" fill="#F6C53A" stroke="#0b0b0b" stroke-width="1.3"/>
<circle cx="460.30" cy="391.80" r="3.7" fill="#F6C53A" stroke="#0b0b0b" stroke-width="1.3"/>
<circle cx="463.40" cy="395.70" r="3.7" fill="#F6C53A" stroke="#0b0b0b" stroke-width="1.3"/>
<circle cx="458.20" cy="399.40" r="3.7" fill="#F6C53A" stroke="#0b0b0b" stroke-width="1.3"/>
<circle cx="474.10" cy="400.40" r="3.7" fill="#F6C53A" stroke="#0b0b0b" stroke-width="1.3"/>
<circle cx="472.00" cy="407.20" r="3.7" fill="#F6C53A" stroke="#0b0b0b" stroke-width="1.3"/>
<circle cx="480.90" cy="407.20" r="3.7" fill="#F6C53A" stroke="#0b0b0b" stroke-width="1.3"/>
<circle cx="478.20" cy="411.80" r="3.7" fill="#F6C53A" stroke="#0b0b0b" stroke-width="1.3"/>
<circle cx="438.40" cy="408.70" r="3.7" fill="#F6C53A" stroke="#0b0b0b" stroke-width="1.3"/>
<circle cx="442.50" cy="414.80" r="3.7" fill="#F6C53A" stroke="#0b0b0b" stroke-width="1.3"/>
<circle cx="431.40" cy="415.90" r="3.7" fill="#F6C53A" stroke="#0b0b0b" stroke-width="1.3"/>
<circle cx="454.50" cy="413.20" r="3.7" fill="#F6C53A" stroke="#0b0b0b" stroke-width="1.3"/>
<circle cx="439.00" cy="391.60" r="3.7" fill="#F6C53A" stroke="#0b0b0b" stroke-width="1.3"/>
<circle cx="445.20" cy="385.00" r="3.7" fill="#F6C53A" stroke="#0b0b0b" stroke-width="1.3"/>
<circle cx="460.30" cy="391.60" r="3.7" fill="#F6C53A" stroke="#0b0b0b" stroke-width="1.3"/>
<circle cx="473.00" cy="418.00" r="3.7" fill="#F6C53A" stroke="#0b0b0b" stroke-width="1.3"/>
<circle cx="438.40" cy="422.50" r="3.7" fill="#F6C53A" stroke="#0b0b0b" stroke-width="1.3"/>
<circle cx="477.60" cy="422.50" r="3.7" fill="#F6C53A" stroke="#0b0b0b" stroke-width="1.3"/>
<circle cx="448.30" cy="426.20" r="3.7" fill="#F6C53A" stroke="#0b0b0b" stroke-width="1.3"/>
<circle cx="452.00" cy="425.80" r="3.7" fill="#F6C53A" stroke="#0b0b0b" stroke-width="1.3"/>
<circle cx="448.30" cy="429.30" r="3.7" fill="#F6C53A" stroke="#0b0b0b" stroke-width="1.3"/>
<circle cx="450.00" cy="434.50" r="3.7" fill="#F6C53A" stroke="#0b0b0b" stroke-width="1.3"/>
<circle cx="460.70" cy="428.70" r="3.7" fill="#F6C53A" stroke="#0b0b0b" stroke-width="1.3"/>
<circle cx="463.10" cy="432.00" r="3.7" fill="#F6C53A" stroke="#0b0b0b" stroke-width="1.3"/>
<circle cx="465.20" cy="434.50" r="3.7" fill="#F6C53A" stroke="#0b0b0b" stroke-width="1.3"/>
<circle cx="469.30" cy="426.20" r="3.7" fill="#F6C53A" stroke="#0b0b0b" stroke-width="1.3"/>
<circle cx="470.60" cy="430.80" r="3.7" fill="#F6C53A" stroke="#0b0b0b" stroke-width="1.3"/>
<circle cx="434.50" cy="439.00" r="3.7" fill="#F6C53A" stroke="#0b0b0b" stroke-width="1.3"/>
<circle cx="431.40" cy="444.80" r="3.7" fill="#F6C53A" stroke="#0b0b0b" stroke-width="1.3"/>
<circle cx="445.20" cy="441.70" r="3.7" fill="#F6C53A" stroke="#0b0b0b" stroke-width="1.3"/>
<circle cx="456.10" cy="444.80" r="3.7" fill="#F6C53A" stroke="#0b0b0b" stroke-width="1.3"/>
<circle cx="459.60" cy="447.30" r="3.7" fill="#F6C53A" stroke="#0b0b0b" stroke-width="1.3"/>
<circle cx="471.40" cy="442.30" r="3.7" fill="#F6C53A" stroke="#0b0b0b" stroke-width="1.3"/>
<circle cx="476.10" cy="447.30" r="3.7" fill="#F6C53A" stroke="#0b0b0b" stroke-width="1.3"/>
<circle cx="480.30" cy="437.60" r="3.7" fill="#F6C53A" stroke="#0b0b0b" stroke-width="1.3"/>
<circle cx="461.10" cy="466.00" r="3.7" fill="#F6C53A" stroke="#0b0b0b" stroke-width="1.3"/>
<circle cx="547.54" cy="416.28" r="3.7" fill="#1DA9B8" stroke="#0b0b0b" stroke-width="1.3"/>
<circle cx="556.28" cy="424.11" r="3.7" fill="#1DA9B8" stroke="#0b0b0b" stroke-width="1.3"/>
<circle cx="554.45" cy="437.62" r="3.7" fill="#1DA9B8" stroke="#0b0b0b" stroke-width="1.3"/>
<circle cx="537.14" cy="403.89" r="3.7" fill="#1DA9B8" stroke="#0b0b0b" stroke-width="1.3"/>
<circle cx="568.69" cy="393.12" r="3.7" fill="#1DA9B8" stroke="#0b0b0b" stroke-width="1.3"/>
<circle cx="554.88" cy="423.24" r="3.7" fill="#1DA9B8" stroke="#0b0b0b" stroke-width="1.3"/>
<circle cx="518.82" cy="434.95" r="3.7" fill="#1DA9B8" stroke="#0b0b0b" stroke-width="1.3"/>
<circle cx="563.77" cy="422.27" r="3.7" fill="#1DA9B8" stroke="#0b0b0b" stroke-width="1.3"/>
<circle cx="555.39" cy="433.55" r="3.7" fill="#1DA9B8" stroke="#0b0b0b" stroke-width="1.3"/>
<circle cx="523.88" cy="415.95" r="3.7" fill="#1DA9B8" stroke="#0b0b0b" stroke-width="1.3"/>
<circle cx="543.23" cy="434.93" r="3.7" fill="#1DA9B8" stroke="#0b0b0b" stroke-width="1.3"/>
<circle cx="559.15" cy="434.41" r="3.7" fill="#1DA9B8" stroke="#0b0b0b" stroke-width="1.3"/>
<circle cx="547.46" cy="438.46" r="3.7" fill="#1DA9B8" stroke="#0b0b0b" stroke-width="1.3"/>
<circle cx="552.69" cy="426.29" r="3.7" fill="#1DA9B8" stroke="#0b0b0b" stroke-width="1.3"/>
<circle cx="528.69" cy="385.90" r="3.7" fill="#1DA9B8" stroke="#0b0b0b" stroke-width="1.3"/>
<circle cx="523.55" cy="406.00" r="3.7" fill="#1DA9B8" stroke="#0b0b0b" stroke-width="1.3"/>
<circle cx="522.06" cy="434.99" r="3.7" fill="#1DA9B8" stroke="#0b0b0b" stroke-width="1.3"/>
<circle cx="546.10" cy="422.29" r="3.7" fill="#1DA9B8" stroke="#0b0b0b" stroke-width="1.3"/>
<circle cx="549.69" cy="425.52" r="3.7" fill="#1DA9B8" stroke="#0b0b0b" stroke-width="1.3"/>
<circle cx="542.43" cy="384.20" r="3.7" fill="#1DA9B8" stroke="#0b0b0b" stroke-width="1.3"/>
<circle cx="558.78" cy="429.64" r="3.7" fill="#1DA9B8" stroke="#0b0b0b" stroke-width="1.3"/>
<circle cx="543.16" cy="416.65" r="3.7" fill="#1DA9B8" stroke="#0b0b0b" stroke-width="1.3"/>
<circle cx="551.44" cy="388.03" r="3.7" fill="#1DA9B8" stroke="#0b0b0b" stroke-width="1.3"/>
<circle cx="555.55" cy="399.38" r="3.7" fill="#1DA9B8" stroke="#0b0b0b" stroke-width="1.3"/>
<circle cx="520.45" cy="400.20" r="3.7" fill="#1DA9B8" stroke="#0b0b0b" stroke-width="1.3"/>
<circle cx="555.15" cy="396.52" r="3.7" fill="#1DA9B8" stroke="#0b0b0b" stroke-width="1.3"/>
<circle cx="555.71" cy="443.52" r="3.7" fill="#1DA9B8" stroke="#0b0b0b" stroke-width="1.3"/>
<circle cx="542.68" cy="407.34" r="3.7" fill="#1DA9B8" stroke="#0b0b0b" stroke-width="1.3"/>
<circle cx="541.89" cy="425.71" r="3.7" fill="#1DA9B8" stroke="#0b0b0b" stroke-width="1.3"/>
<circle cx="557.15" cy="421.64" r="3.7" fill="#1DA9B8" stroke="#0b0b0b" stroke-width="1.3"/>
<circle cx="550.57" cy="388.73" r="3.7" fill="#1DA9B8" stroke="#0b0b0b" stroke-width="1.3"/>
<circle cx="524.31" cy="399.49" r="3.7" fill="#1DA9B8" stroke="#0b0b0b" stroke-width="1.3"/>
<circle cx="555.89" cy="402.57" r="3.7" fill="#1DA9B8" stroke="#0b0b0b" stroke-width="1.3"/>
<circle cx="546.59" cy="384.76" r="3.7" fill="#1DA9B8" stroke="#0b0b0b" stroke-width="1.3"/>
<circle cx="519.72" cy="400.40" r="3.7" fill="#1DA9B8" stroke="#0b0b0b" stroke-width="1.3"/>
<circle cx="552.12" cy="426.22" r="3.7" fill="#1DA9B8" stroke="#0b0b0b" stroke-width="1.3"/>
<circle cx="552.31" cy="401.74" r="3.7" fill="#1DA9B8" stroke="#0b0b0b" stroke-width="1.3"/>
<circle cx="543.88" cy="412.34" r="3.7" fill="#1DA9B8" stroke="#0b0b0b" stroke-width="1.3"/>
<circle cx="541.22" cy="391.23" r="3.7" fill="#1DA9B8" stroke="#0b0b0b" stroke-width="1.3"/>
<circle cx="563.86" cy="396.15" r="3.7" fill="#1DA9B8" stroke="#0b0b0b" stroke-width="1.3"/>
<circle cx="568.34" cy="441.11" r="3.7" fill="#1DA9B8" stroke="#0b0b0b" stroke-width="1.3"/>
<circle cx="517.43" cy="412.00" r="3.7" fill="#1DA9B8" stroke="#0b0b0b" stroke-width="1.3"/>
<circle cx="559.95" cy="443.05" r="3.7" fill="#1DA9B8" stroke="#0b0b0b" stroke-width="1.3"/>
<circle cx="540.32" cy="400.39" r="3.7" fill="#1DA9B8" stroke="#0b0b0b" stroke-width="1.3"/>
<circle cx="527.62" cy="441.68" r="3.7" fill="#1DA9B8" stroke="#0b0b0b" stroke-width="1.3"/>
<circle cx="527.67" cy="419.47" r="3.7" fill="#1DA9B8" stroke="#0b0b0b" stroke-width="1.3"/>
<circle cx="524.01" cy="415.97" r="3.7" fill="#1DA9B8" stroke="#0b0b0b" stroke-width="1.3"/>
<circle cx="567.00" cy="392.09" r="3.7" fill="#1DA9B8" stroke="#0b0b0b" stroke-width="1.3"/>
<circle cx="559.97" cy="415.03" r="3.7" fill="#1DA9B8" stroke="#0b0b0b" stroke-width="1.3"/>
<circle cx="563.50" cy="426.90" r="3.7" fill="#1DA9B8" stroke="#0b0b0b" stroke-width="1.3"/>
<circle cx="528.76" cy="438.76" r="3.7" fill="#1DA9B8" stroke="#0b0b0b" stroke-width="1.3"/>
<circle cx="542.27" cy="385.51" r="3.7" fill="#1DA9B8" stroke="#0b0b0b" stroke-width="1.3"/>
<circle cx="516.69" cy="413.99" r="3.7" fill="#1DA9B8" stroke="#0b0b0b" stroke-width="1.3"/>
<circle cx="540.39" cy="402.42" r="3.7" fill="#1DA9B8" stroke="#0b0b0b" stroke-width="1.3"/>
<circle cx="523.96" cy="404.98" r="3.7" fill="#1DA9B8" stroke="#0b0b0b" stroke-width="1.3"/>
<circle cx="533.25" cy="435.25" r="3.7" fill="#1DA9B8" stroke="#0b0b0b" stroke-width="1.3"/>
<circle cx="516.59" cy="429.79" r="3.7" fill="#1DA9B8" stroke="#0b0b0b" stroke-width="1.3"/>
<circle cx="560.97" cy="391.32" r="3.7" fill="#1DA9B8" stroke="#0b0b0b" stroke-width="1.3"/>
<circle cx="565.60" cy="427.49" r="3.7" fill="#1DA9B8" stroke="#0b0b0b" stroke-width="1.3"/>
<circle cx="564.28" cy="401.68" r="3.7" fill="#1DA9B8" stroke="#0b0b0b" stroke-width="1.3"/>
<circle cx="536.23" cy="407.97" r="3.7" fill="#1DA9B8" stroke="#0b0b0b" stroke-width="1.3"/>
<circle cx="569.44" cy="419.94" r="3.7" fill="#1DA9B8" stroke="#0b0b0b" stroke-width="1.3"/>
<circle cx="535.62" cy="410.11" r="3.7" fill="#1DA9B8" stroke="#0b0b0b" stroke-width="1.3"/>
<circle cx="531.08" cy="386.94" r="3.7" fill="#1DA9B8" stroke="#0b0b0b" stroke-width="1.3"/>
<circle cx="521.89" cy="434.92" r="3.7" fill="#1DA9B8" stroke="#0b0b0b" stroke-width="1.3"/>
<circle cx="531.64" cy="441.07" r="3.7" fill="#1DA9B8" stroke="#0b0b0b" stroke-width="1.3"/>
<circle cx="529.71" cy="400.21" r="3.7" fill="#1DA9B8" stroke="#0b0b0b" stroke-width="1.3"/>
<circle cx="543.58" cy="395.58" r="3.7" fill="#1DA9B8" stroke="#0b0b0b" stroke-width="1.3"/>
<circle cx="536.29" cy="442.33" r="3.7" fill="#1DA9B8" stroke="#0b0b0b" stroke-width="1.3"/>
<circle cx="563.37" cy="433.53" r="3.7" fill="#1DA9B8" stroke="#0b0b0b" stroke-width="1.3"/>
<circle cx="549.94" cy="439.72" r="3.7" fill="#1DA9B8" stroke="#0b0b0b" stroke-width="1.3"/>
<circle cx="566.36" cy="417.50" r="3.7" fill="#1DA9B8" stroke="#0b0b0b" stroke-width="1.3"/>
<circle cx="554.64" cy="387.02" r="3.7" fill="#1DA9B8" stroke="#0b0b0b" stroke-width="1.3"/>
<circle cx="555.31" cy="411.50" r="3.7" fill="#1DA9B8" stroke="#0b0b0b" stroke-width="1.3"/>
<circle cx="556.39" cy="423.31" r="3.7" fill="#1DA9B8" stroke="#0b0b0b" stroke-width="1.3"/>
<circle cx="531.67" cy="386.99" r="3.7" fill="#1DA9B8" stroke="#0b0b0b" stroke-width="1.3"/>
<circle cx="565.62" cy="391.77" r="3.7" fill="#1DA9B8" stroke="#0b0b0b" stroke-width="1.3"/>
<circle cx="541.53" cy="404.96" r="3.7" fill="#1DA9B8" stroke="#0b0b0b" stroke-width="1.3"/>
<circle cx="532.28" cy="429.08" r="3.7" fill="#1DA9B8" stroke="#0b0b0b" stroke-width="1.3"/>
<circle cx="568.24" cy="399.87" r="3.7" fill="#1DA9B8" stroke="#0b0b0b" stroke-width="1.3"/>
<circle cx="551.27" cy="402.35" r="3.7" fill="#1DA9B8" stroke="#0b0b0b" stroke-width="1.3"/>
<circle cx="546.04" cy="408.06" r="3.7" fill="#1DA9B8" stroke="#0b0b0b" stroke-width="1.3"/>
<circle cx="525.37" cy="393.86" r="3.7" fill="#1DA9B8" stroke="#0b0b0b" stroke-width="1.3"/>
<circle cx="527.52" cy="439.26" r="3.7" fill="#1DA9B8" stroke="#0b0b0b" stroke-width="1.3"/>
<circle cx="542.85" cy="397.42" r="3.7" fill="#1DA9B8" stroke="#0b0b0b" stroke-width="1.3"/>
<circle cx="564.53" cy="444.78" r="3.7" fill="#1DA9B8" stroke="#0b0b0b" stroke-width="1.3"/>
<circle cx="540.35" cy="392.52" r="3.7" fill="#1DA9B8" stroke="#0b0b0b" stroke-width="1.3"/>
<circle cx="526.70" cy="389.53" r="3.7" fill="#1DA9B8" stroke="#0b0b0b" stroke-width="1.3"/>
<circle cx="534.62" cy="389.56" r="3.7" fill="#1DA9B8" stroke="#0b0b0b" stroke-width="1.3"/>
<circle cx="529.17" cy="399.76" r="3.7" fill="#1DA9B8" stroke="#0b0b0b" stroke-width="1.3"/>
<circle cx="546.69" cy="438.12" r="3.7" fill="#1DA9B8" stroke="#0b0b0b" stroke-width="1.3"/>
<circle cx="556.23" cy="409.18" r="3.7" fill="#1DA9B8" stroke="#0b0b0b" stroke-width="1.3"/>
<circle cx="538.44" cy="415.97" r="3.7" fill="#1DA9B8" stroke="#0b0b0b" stroke-width="1.3"/>
<circle cx="536.47" cy="404.63" r="3.7" fill="#1DA9B8" stroke="#0b0b0b" stroke-width="1.3"/>
<circle cx="519.79" cy="400.93" r="3.7" fill="#1DA9B8" stroke="#0b0b0b" stroke-width="1.3"/>
<circle cx="567.79" cy="391.68" r="3.7" fill="#1DA9B8" stroke="#0b0b0b" stroke-width="1.3"/>
<circle cx="543.18" cy="422.41" r="3.7" fill="#1DA9B8" stroke="#0b0b0b" stroke-width="1.3"/>
<circle cx="562.23" cy="397.17" r="3.7" fill="#1DA9B8" stroke="#0b0b0b" stroke-width="1.3"/>
<circle cx="530.86" cy="399.16" r="3.7" fill="#1DA9B8" stroke="#0b0b0b" stroke-width="1.3"/>
<circle cx="537.69" cy="411.20" r="3.7" fill="#1DA9B8" stroke="#0b0b0b" stroke-width="1.3"/>
<circle cx="567.06" cy="435.77" r="3.7" fill="#1DA9B8" stroke="#0b0b0b" stroke-width="1.3"/>
<circle cx="562.76" cy="385.33" r="3.7" fill="#1DA9B8" stroke="#0b0b0b" stroke-width="1.3"/>
<circle cx="518.21" cy="427.28" r="3.7" fill="#1DA9B8" stroke="#0b0b0b" stroke-width="1.3"/>
<circle cx="563.97" cy="412.87" r="3.7" fill="#1DA9B8" stroke="#0b0b0b" stroke-width="1.3"/>
<circle cx="547.62" cy="384.01" r="3.7" fill="#1DA9B8" stroke="#0b0b0b" stroke-width="1.3"/>
<circle cx="537.25" cy="440.54" r="3.7" fill="#1DA9B8" stroke="#0b0b0b" stroke-width="1.3"/>
<circle cx="560.26" cy="436.18" r="3.7" fill="#1DA9B8" stroke="#0b0b0b" stroke-width="1.3"/>
<circle cx="568.03" cy="399.16" r="3.7" fill="#1DA9B8" stroke="#0b0b0b" stroke-width="1.3"/>
<circle cx="522.28" cy="393.42" r="3.7" fill="#1DA9B8" stroke="#0b0b0b" stroke-width="1.3"/>
<circle cx="544.19" cy="425.61" r="3.7" fill="#1DA9B8" stroke="#0b0b0b" stroke-width="1.3"/>
<circle cx="566.40" cy="428.03" r="3.7" fill="#1DA9B8" stroke="#0b0b0b" stroke-width="1.3"/>
<circle cx="550.81" cy="430.65" r="3.7" fill="#1DA9B8" stroke="#0b0b0b" stroke-width="1.3"/>
<circle cx="540.74" cy="417.64" r="3.7" fill="#1DA9B8" stroke="#0b0b0b" stroke-width="1.3"/>
<circle cx="518.60" cy="431.72" r="3.7" fill="#1DA9B8" stroke="#0b0b0b" stroke-width="1.3"/>
<circle cx="528.83" cy="440.12" r="3.7" fill="#1DA9B8" stroke="#0b0b0b" stroke-width="1.3"/>
<circle cx="550.71" cy="402.53" r="3.7" fill="#1DA9B8" stroke="#0b0b0b" stroke-width="1.3"/>
<circle cx="523.28" cy="399.36" r="3.7" fill="#1DA9B8" stroke="#0b0b0b" stroke-width="1.3"/>
<circle cx="550.22" cy="426.61" r="3.7" fill="#1DA9B8" stroke="#0b0b0b" stroke-width="1.3"/>
<circle cx="522.44" cy="388.29" r="3.7" fill="#1DA9B8" stroke="#0b0b0b" stroke-width="1.3"/>
<circle cx="544.30" cy="419.56" r="3.7" fill="#1DA9B8" stroke="#0b0b0b" stroke-width="1.3"/>
<circle cx="537.07" cy="397.64" r="3.7" fill="#1DA9B8" stroke="#0b0b0b" stroke-width="1.3"/>
<circle cx="548.36" cy="384.64" r="3.7" fill="#1DA9B8" stroke="#0b0b0b" stroke-width="1.3"/>
<circle cx="532.48" cy="412.10" r="3.7" fill="#1DA9B8" stroke="#0b0b0b" stroke-width="1.3"/>
<circle cx="567.32" cy="423.32" r="3.7" fill="#1DA9B8" stroke="#0b0b0b" stroke-width="1.3"/>
<circle cx="563.34" cy="412.99" r="3.7" fill="#1DA9B8" stroke="#0b0b0b" stroke-width="1.3"/>
<circle cx="528.94" cy="399.07" r="3.7" fill="#1DA9B8" stroke="#0b0b0b" stroke-width="1.3"/>
<circle cx="567.41" cy="426.98" r="3.7" fill="#1DA9B8" stroke="#0b0b0b" stroke-width="1.3"/>
<circle cx="532.79" cy="385.33" r="3.7" fill="#1DA9B8" stroke="#0b0b0b" stroke-width="1.3"/>
<circle cx="542.91" cy="425.14" r="3.7" fill="#1DA9B8" stroke="#0b0b0b" stroke-width="1.3"/>
<circle cx="538.76" cy="399.69" r="3.7" fill="#1DA9B8" stroke="#0b0b0b" stroke-width="1.3"/>
<circle cx="551.87" cy="440.43" r="3.7" fill="#1DA9B8" stroke="#0b0b0b" stroke-width="1.3"/>
<circle cx="528.52" cy="386.08" r="3.7" fill="#1DA9B8" stroke="#0b0b0b" stroke-width="1.3"/>
<circle cx="534.42" cy="409.65" r="3.7" fill="#1DA9B8" stroke="#0b0b0b" stroke-width="1.3"/>
<circle cx="552.68" cy="396.08" r="3.7" fill="#1DA9B8" stroke="#0b0b0b" stroke-width="1.3"/>
<circle cx="558.74" cy="429.09" r="3.7" fill="#1DA9B8" stroke="#0b0b0b" stroke-width="1.3"/>
<circle cx="543.26" cy="396.52" r="3.7" fill="#1DA9B8" stroke="#0b0b0b" stroke-width="1.3"/>
<circle cx="567.90" cy="403.01" r="3.7" fill="#1DA9B8" stroke="#0b0b0b" stroke-width="1.3"/>
<circle cx="559.96" cy="398.08" r="3.7" fill="#1DA9B8" stroke="#0b0b0b" stroke-width="1.3"/>
<circle cx="528.24" cy="430.39" r="3.7" fill="#1DA9B8" stroke="#0b0b0b" stroke-width="1.3"/>
<circle cx="532.13" cy="442.07" r="3.7" fill="#1DA9B8" stroke="#0b0b0b" stroke-width="1.3"/>
<circle cx="542.78" cy="395.43" r="3.7" fill="#1DA9B8" stroke="#0b0b0b" stroke-width="1.3"/>
<circle cx="528.34" cy="409.44" r="3.7" fill="#1DA9B8" stroke="#0b0b0b" stroke-width="1.3"/>
<circle cx="551.76" cy="441.87" r="3.7" fill="#1DA9B8" stroke="#0b0b0b" stroke-width="1.3"/>
<circle cx="524.26" cy="408.00" r="3.7" fill="#1DA9B8" stroke="#0b0b0b" stroke-width="1.3"/>
<circle cx="527.79" cy="443.42" r="3.7" fill="#1DA9B8" stroke="#0b0b0b" stroke-width="1.3"/>
<circle cx="524.02" cy="387.16" r="3.7" fill="#1DA9B8" stroke="#0b0b0b" stroke-width="1.3"/>
<circle cx="519.69" cy="407.99" r="3.7" fill="#1DA9B8" stroke="#0b0b0b" stroke-width="1.3"/>
<circle cx="564.10" cy="437.90" r="3.7" fill="#1DA9B8" stroke="#0b0b0b" stroke-width="1.3"/>
<circle cx="555.33" cy="444.85" r="3.7" fill="#1DA9B8" stroke="#0b0b0b" stroke-width="1.3"/>
<circle cx="565.87" cy="404.08" r="3.7" fill="#1DA9B8" stroke="#0b0b0b" stroke-width="1.3"/>
<circle cx="526.33" cy="441.09" r="3.7" fill="#1DA9B8" stroke="#0b0b0b" stroke-width="1.3"/>
<circle cx="556.05" cy="385.95" r="3.7" fill="#1DA9B8" stroke="#0b0b0b" stroke-width="1.3"/>
<circle cx="551.71" cy="407.10" r="3.7" fill="#1DA9B8" stroke="#0b0b0b" stroke-width="1.3"/>
<circle cx="536.32" cy="404.23" r="3.7" fill="#1DA9B8" stroke="#0b0b0b" stroke-width="1.3"/>
<circle cx="525.47" cy="384.18" r="3.7" fill="#1DA9B8" stroke="#0b0b0b" stroke-width="1.3"/>
<circle cx="531.33" cy="405.44" r="3.7" fill="#1DA9B8" stroke="#0b0b0b" stroke-width="1.3"/>
<circle cx="567.14" cy="391.55" r="3.7" fill="#1DA9B8" stroke="#0b0b0b" stroke-width="1.3"/>
<circle cx="567.61" cy="396.65" r="3.7" fill="#1DA9B8" stroke="#0b0b0b" stroke-width="1.3"/>
<circle cx="535.40" cy="434.12" r="3.7" fill="#1DA9B8" stroke="#0b0b0b" stroke-width="1.3"/>
<circle cx="560.07" cy="410.38" r="3.7" fill="#1DA9B8" stroke="#0b0b0b" stroke-width="1.3"/>
<circle cx="519.11" cy="412.88" r="3.7" fill="#1DA9B8" stroke="#0b0b0b" stroke-width="1.3"/>
<circle cx="536.25" cy="440.09" r="3.7" fill="#1DA9B8" stroke="#0b0b0b" stroke-width="1.3"/>
<circle cx="526.73" cy="406.22" r="3.7" fill="#1DA9B8" stroke="#0b0b0b" stroke-width="1.3"/>
<circle cx="564.04" cy="385.85" r="3.7" fill="#1DA9B8" stroke="#0b0b0b" stroke-width="1.3"/>
<circle cx="538.27" cy="433.52" r="3.7" fill="#1DA9B8" stroke="#0b0b0b" stroke-width="1.3"/>
<circle cx="557.13" cy="386.48" r="3.7" fill="#1DA9B8" stroke="#0b0b0b" stroke-width="1.3"/>
<circle cx="518.35" cy="387.82" r="3.7" fill="#1DA9B8" stroke="#0b0b0b" stroke-width="1.3"/>
<circle cx="565.26" cy="399.68" r="3.7" fill="#1DA9B8" stroke="#0b0b0b" stroke-width="1.3"/>
<circle cx="556.11" cy="438.81" r="3.7" fill="#1DA9B8" stroke="#0b0b0b" stroke-width="1.3"/>
<circle cx="534.47" cy="400.61" r="3.7" fill="#1DA9B8" stroke="#0b0b0b" stroke-width="1.3"/>
<circle cx="567.26" cy="421.64" r="3.7" fill="#1DA9B8" stroke="#0b0b0b" stroke-width="1.3"/>
<circle cx="530.40" cy="427.71" r="3.7" fill="#1DA9B8" stroke="#0b0b0b" stroke-width="1.3"/>
<circle cx="533.27" cy="400.81" r="3.7" fill="#1DA9B8" stroke="#0b0b0b" stroke-width="1.3"/>
<circle cx="516.70" cy="430.09" r="3.7" fill="#1DA9B8" stroke="#0b0b0b" stroke-width="1.3"/>
<circle cx="565.07" cy="422.67" r="3.7" fill="#1DA9B8" stroke="#0b0b0b" stroke-width="1.3"/>
<circle cx="566.49" cy="385.48" r="3.7" fill="#1DA9B8" stroke="#0b0b0b" stroke-width="1.3"/>
<circle cx="528.89" cy="412.99" r="3.7" fill="#1DA9B8" stroke="#0b0b0b" stroke-width="1.3"/>
<circle cx="567.21" cy="442.19" r="3.7" fill="#1DA9B8" stroke="#0b0b0b" stroke-width="1.3"/>
<circle cx="536.99" cy="399.31" r="3.7" fill="#1DA9B8" stroke="#0b0b0b" stroke-width="1.3"/>
<circle cx="539.29" cy="414.10" r="3.7" fill="#1DA9B8" stroke="#0b0b0b" stroke-width="1.3"/>
<circle cx="565.69" cy="395.16" r="3.7" fill="#1DA9B8" stroke="#0b0b0b" stroke-width="1.3"/>
<circle cx="559.04" cy="429.05" r="3.7" fill="#1DA9B8" stroke="#0b0b0b" stroke-width="1.3"/>
<circle cx="560.11" cy="431.14" r="3.7" fill="#1DA9B8" stroke="#0b0b0b" stroke-width="1.3"/>
<circle cx="548.68" cy="404.00" r="3.7" fill="#1DA9B8" stroke="#0b0b0b" stroke-width="1.3"/>
<circle cx="533.44" cy="406.07" r="3.7" fill="#1DA9B8" stroke="#0b0b0b" stroke-width="1.3"/>
<circle cx="557.96" cy="388.82" r="3.7" fill="#1DA9B8" stroke="#0b0b0b" stroke-width="1.3"/>
<circle cx="526.96" cy="429.93" r="3.7" fill="#1DA9B8" stroke="#0b0b0b" stroke-width="1.3"/>
<circle cx="529.61" cy="387.95" r="3.7" fill="#1DA9B8" stroke="#0b0b0b" stroke-width="1.3"/>
<circle cx="518.29" cy="417.71" r="3.7" fill="#1DA9B8" stroke="#0b0b0b" stroke-width="1.3"/>
<circle cx="533.77" cy="443.80" r="3.7" fill="#1DA9B8" stroke="#0b0b0b" stroke-width="1.3"/>
<circle cx="563.32" cy="444.26" r="3.7" fill="#1DA9B8" stroke="#0b0b0b" stroke-width="1.3"/>
<circle cx="530.54" cy="389.13" r="3.7" fill="#1DA9B8" stroke="#0b0b0b" stroke-width="1.3"/>
<circle cx="521.61" cy="414.41" r="3.7" fill="#1DA9B8" stroke="#0b0b0b" stroke-width="1.3"/>
<circle cx="554.12" cy="411.26" r="3.7" fill="#1DA9B8" stroke="#0b0b0b" stroke-width="1.3"/>
<circle cx="528.91" cy="409.43" r="3.7" fill="#1DA9B8" stroke="#0b0b0b" stroke-width="1.3"/>
<circle cx="549.38" cy="425.12" r="3.7" fill="#1DA9B8" stroke="#0b0b0b" stroke-width="1.3"/>
<circle cx="556.14" cy="435.67" r="3.7" fill="#1DA9B8" stroke="#0b0b0b" stroke-width="1.3"/>
<circle cx="551.71" cy="391.39" r="3.7" fill="#1DA9B8" stroke="#0b0b0b" stroke-width="1.3"/>
<circle cx="561.07" cy="401.92" r="3.7" fill="#1DA9B8" stroke="#0b0b0b" stroke-width="1.3"/>
<circle cx="546.54" cy="406.75" r="3.7" fill="#1DA9B8" stroke="#0b0b0b" stroke-width="1.3"/>
<circle cx="555.62" cy="396.15" r="3.7" fill="#1DA9B8" stroke="#0b0b0b" stroke-width="1.3"/>
<circle cx="529.61" cy="398.97" r="3.7" fill="#1DA9B8" stroke="#0b0b0b" stroke-width="1.3"/>
<circle cx="524.63" cy="437.93" r="3.7" fill="#1DA9B8" stroke="#0b0b0b" stroke-width="1.3"/>
<circle cx="547.15" cy="403.91" r="3.7" fill="#1DA9B8" stroke="#0b0b0b" stroke-width="1.3"/>
<circle cx="537.49" cy="444.54" r="3.7" fill="#1DA9B8" stroke="#0b0b0b" stroke-width="1.3"/>
<circle cx="543.39" cy="398.11" r="3.7" fill="#1DA9B8" stroke="#0b0b0b" stroke-width="1.3"/>
<circle cx="559.35" cy="423.85" r="3.7" fill="#1DA9B8" stroke="#0b0b0b" stroke-width="1.3"/>
<circle cx="569.02" cy="390.24" r="3.7" fill="#1DA9B8" stroke="#0b0b0b" stroke-width="1.3"/>
<circle cx="541.66" cy="433.97" r="3.7" fill="#1DA9B8" stroke="#0b0b0b" stroke-width="1.3"/>
<circle cx="561.05" cy="439.78" r="3.7" fill="#1DA9B8" stroke="#0b0b0b" stroke-width="1.3"/>
<circle cx="518.64" cy="401.91" r="3.7" fill="#1DA9B8" stroke="#0b0b0b" stroke-width="1.3"/>
<circle cx="522.82" cy="395.56" r="3.7" fill="#1DA9B8" stroke="#0b0b0b" stroke-width="1.3"/>
<circle cx="568.07" cy="419.57" r="3.7" fill="#1DA9B8" stroke="#0b0b0b" stroke-width="1.3"/>
<circle cx="565.80" cy="406.71" r="3.7" fill="#1DA9B8" stroke="#0b0b0b" stroke-width="1.3"/>
<circle cx="562.40" cy="411.40" r="3.7" fill="#1DA9B8" stroke="#0b0b0b" stroke-width="1.3"/>
<circle cx="530.28" cy="431.44" r="3.7" fill="#1DA9B8" stroke="#0b0b0b" stroke-width="1.3"/>
<circle cx="566.62" cy="390.45" r="3.7" fill="#1DA9B8" stroke="#0b0b0b" stroke-width="1.3"/>
<circle cx="548.10" cy="421.82" r="3.7" fill="#1DA9B8" stroke="#0b0b0b" stroke-width="1.3"/>
<circle cx="528.04" cy="406.49" r="3.7" fill="#1DA9B8" stroke="#0b0b0b" stroke-width="1.3"/>
<circle cx="523.99" cy="396.44" r="3.7" fill="#1DA9B8" stroke="#0b0b0b" stroke-width="1.3"/>
<circle cx="530.01" cy="420.56" r="3.7" fill="#1DA9B8" stroke="#0b0b0b" stroke-width="1.3"/>
<circle cx="551.04" cy="396.41" r="3.7" fill="#1DA9B8" stroke="#0b0b0b" stroke-width="1.3"/>
<circle cx="517.10" cy="403.96" r="3.7" fill="#1DA9B8" stroke="#0b0b0b" stroke-width="1.3"/>
<circle cx="552.45" cy="395.29" r="3.7" fill="#1DA9B8" stroke="#0b0b0b" stroke-width="1.3"/>
<circle cx="533.05" cy="396.41" r="3.7" fill="#1DA9B8" stroke="#0b0b0b" stroke-width="1.3"/>
<circle cx="565.10" cy="324.50" r="3.7" fill="#1DA9B8" stroke="#0b0b0b" stroke-width="1.3"/>
<circle cx="567.60" cy="331.30" r="3.7" fill="#1DA9B8" stroke="#0b0b0b" stroke-width="1.3"/>
<circle cx="518.80" cy="350.80" r="3.7" fill="#1DA9B8" stroke="#0b0b0b" stroke-width="1.3"/>
<circle cx="518.60" cy="354.80" r="3.7" fill="#1DA9B8" stroke="#0b0b0b" stroke-width="1.3"/>
<circle cx="521.70" cy="358.20" r="3.7" fill="#1DA9B8" stroke="#0b0b0b" stroke-width="1.3"/>
<circle cx="524.80" cy="358.20" r="3.7" fill="#1DA9B8" stroke="#0b0b0b" stroke-width="1.3"/>
<circle cx="547.00" cy="355.00" r="3.7" fill="#1DA9B8" stroke="#0b0b0b" stroke-width="1.3"/>
<circle cx="546.40" cy="360.30" r="3.7" fill="#1DA9B8" stroke="#0b0b0b" stroke-width="1.3"/>
<circle cx="566.60" cy="354.80" r="3.7" fill="#1DA9B8" stroke="#0b0b0b" stroke-width="1.3"/>
<circle cx="532.20" cy="368.60" r="3.7" fill="#1DA9B8" stroke="#0b0b0b" stroke-width="1.3"/>
<circle cx="569.00" cy="368.40" r="3.7" fill="#1DA9B8" stroke="#0b0b0b" stroke-width="1.3"/>
<circle cx="519.20" cy="375.20" r="3.7" fill="#1DA9B8" stroke="#0b0b0b" stroke-width="1.3"/>
<circle cx="526.00" cy="375.80" r="3.7" fill="#1DA9B8" stroke="#0b0b0b" stroke-width="1.3"/>
<circle cx="529.70" cy="377.60" r="3.7" fill="#1DA9B8" stroke="#0b0b0b" stroke-width="1.3"/>
<circle cx="546.40" cy="375.20" r="3.7" fill="#1DA9B8" stroke="#0b0b0b" stroke-width="1.3"/>
<circle cx="566.80" cy="377.30" r="3.7" fill="#1DA9B8" stroke="#0b0b0b" stroke-width="1.3"/>
<circle cx="517.40" cy="383.50" r="3.7" fill="#1DA9B8" stroke="#0b0b0b" stroke-width="1.3"/>
<circle cx="534.70" cy="383.20" r="3.7" fill="#1DA9B8" stroke="#0b0b0b" stroke-width="1.3"/>
<circle cx="544.60" cy="383.80" r="3.7" fill="#1DA9B8" stroke="#0b0b0b" stroke-width="1.3"/>
<circle cx="556.30" cy="385.70" r="3.7" fill="#1DA9B8" stroke="#0b0b0b" stroke-width="1.3"/>
<circle cx="559.40" cy="390.00" r="3.7" fill="#1DA9B8" stroke="#0b0b0b" stroke-width="1.3"/>
<circle cx="533.80" cy="453.00" r="3.7" fill="#1DA9B8" stroke="#0b0b0b" stroke-width="1.3"/>
<circle cx="515.60" cy="466.00" r="3.7" fill="#1DA9B8" stroke="#0b0b0b" stroke-width="1.3"/>
<circle cx="519.38" cy="466.00" r="3.7" fill="#1DA9B8" stroke="#0b0b0b" stroke-width="1.3"/>
<circle cx="523.16" cy="466.00" r="3.7" fill="#1DA9B8" stroke="#0b0b0b" stroke-width="1.3"/>
<circle cx="526.94" cy="466.00" r="3.7" fill="#1DA9B8" stroke="#0b0b0b" stroke-width="1.3"/>
<circle cx="530.72" cy="466.00" r="3.7" fill="#1DA9B8" stroke="#0b0b0b" stroke-width="1.3"/>
<circle cx="534.50" cy="466.00" r="3.7" fill="#1DA9B8" stroke="#0b0b0b" stroke-width="1.3"/>
<circle cx="538.28" cy="466.00" r="3.7" fill="#1DA9B8" stroke="#0b0b0b" stroke-width="1.3"/>
<circle cx="542.06" cy="466.00" r="3.7" fill="#1DA9B8" stroke="#0b0b0b" stroke-width="1.3"/>
<circle cx="545.84" cy="466.00" r="3.7" fill="#1DA9B8" stroke="#0b0b0b" stroke-width="1.3"/>
<circle cx="549.62" cy="466.00" r="3.7" fill="#1DA9B8" stroke="#0b0b0b" stroke-width="1.3"/>
<circle cx="553.40" cy="466.00" r="3.7" fill="#1DA9B8" stroke="#0b0b0b" stroke-width="1.3"/>
<circle cx="557.18" cy="466.00" r="3.7" fill="#1DA9B8" stroke="#0b0b0b" stroke-width="1.3"/>
<circle cx="560.96" cy="466.00" r="3.7" fill="#1DA9B8" stroke="#0b0b0b" stroke-width="1.3"/>
<circle cx="564.74" cy="466.00" r="3.7" fill="#1DA9B8" stroke="#0b0b0b" stroke-width="1.3"/>
<circle cx="568.52" cy="466.00" r="3.7" fill="#1DA9B8" stroke="#0b0b0b" stroke-width="1.3"/>
<circle cx="572.30" cy="466.00" r="3.7" fill="#1DA9B8" stroke="#0b0b0b" stroke-width="1.3"/>
<circle cx="605.80" cy="377.60" r="3.7" fill="#2E2C89" stroke="#0b0b0b" stroke-width="1.3"/>
<circle cx="617.40" cy="381.90" r="3.7" fill="#2E2C89" stroke="#0b0b0b" stroke-width="1.3"/>
<circle cx="625.50" cy="378.20" r="3.7" fill="#2E2C89" stroke="#0b0b0b" stroke-width="1.3"/>
<circle cx="622.60" cy="385.70" r="3.7" fill="#2E2C89" stroke="#0b0b0b" stroke-width="1.3"/>
<circle cx="625.50" cy="392.90" r="3.7" fill="#2E2C89" stroke="#0b0b0b" stroke-width="1.3"/>
<circle cx="642.20" cy="370.30" r="3.7" fill="#2E2C89" stroke="#0b0b0b" stroke-width="1.3"/>
<circle cx="647.10" cy="376.10" r="3.7" fill="#2E2C89" stroke="#0b0b0b" stroke-width="1.3"/>
<circle cx="627.50" cy="413.70" r="3.7" fill="#2E2C89" stroke="#0b0b0b" stroke-width="1.3"/>
<circle cx="633.30" cy="418.60" r="3.7" fill="#2E2C89" stroke="#0b0b0b" stroke-width="1.3"/>
<circle cx="647.10" cy="418.60" r="3.7" fill="#2E2C89" stroke="#0b0b0b" stroke-width="1.3"/>
<circle cx="616.00" cy="431.10" r="3.7" fill="#2E2C89" stroke="#0b0b0b" stroke-width="1.3"/>
<circle cx="624.00" cy="430.30" r="3.7" fill="#2E2C89" stroke="#0b0b0b" stroke-width="1.3"/>
<circle cx="627.20" cy="430.00" r="3.7" fill="#2E2C89" stroke="#0b0b0b" stroke-width="1.3"/>
<circle cx="625.60" cy="438.70" r="3.7" fill="#2E2C89" stroke="#0b0b0b" stroke-width="1.3"/>
<circle cx="643.30" cy="437.60" r="3.7" fill="#2E2C89" stroke="#0b0b0b" stroke-width="1.3"/>
<circle cx="648.10" cy="440.00" r="3.7" fill="#2E2C89" stroke="#0b0b0b" stroke-width="1.3"/>
<circle cx="652.90" cy="442.90" r="3.7" fill="#2E2C89" stroke="#0b0b0b" stroke-width="1.3"/>
<circle cx="656.90" cy="445.60" r="3.7" fill="#2E2C89" stroke="#0b0b0b" stroke-width="1.3"/>
<circle cx="607.10" cy="448.00" r="3.7" fill="#2E2C89" stroke="#0b0b0b" stroke-width="1.3"/>
<circle cx="612.70" cy="448.00" r="3.7" fill="#2E2C89" stroke="#0b0b0b" stroke-width="1.3"/>
<circle cx="615.10" cy="448.00" r="3.7" fill="#2E2C89" stroke="#0b0b0b" stroke-width="1.3"/>
<circle cx="606.30" cy="453.60" r="3.7" fill="#2E2C89" stroke="#0b0b0b" stroke-width="1.3"/>
<circle cx="614.30" cy="455.70" r="3.7" fill="#2E2C89" stroke="#0b0b0b" stroke-width="1.3"/>
<circle cx="619.20" cy="453.10" r="3.7" fill="#2E2C89" stroke="#0b0b0b" stroke-width="1.3"/>
<circle cx="640.80" cy="448.80" r="3.7" fill="#2E2C89" stroke="#0b0b0b" stroke-width="1.3"/>
<circle cx="648.90" cy="448.80" r="3.7" fill="#2E2C89" stroke="#0b0b0b" stroke-width="1.3"/>
<circle cx="648.10" cy="453.10" r="3.7" fill="#2E2C89" stroke="#0b0b0b" stroke-width="1.3"/>
<circle cx="644.10" cy="454.70" r="3.7" fill="#2E2C89" stroke="#0b0b0b" stroke-width="1.3"/>
<circle cx="653.70" cy="460.80" r="3.7" fill="#2E2C89" stroke="#0b0b0b" stroke-width="1.3"/>
<circle cx="607.90" cy="463.30" r="3.7" fill="#2E2C89" stroke="#0b0b0b" stroke-width="1.3"/>
<circle cx="613.50" cy="466.00" r="3.7" fill="#2E2C89" stroke="#0b0b0b" stroke-width="1.3"/>
<circle cx="619.20" cy="463.70" r="3.7" fill="#2E2C89" stroke="#0b0b0b" stroke-width="1.3"/>
<circle cx="623.20" cy="466.00" r="3.7" fill="#2E2C89" stroke="#0b0b0b" stroke-width="1.3"/>
<circle cx="628.00" cy="463.30" r="3.7" fill="#2E2C89" stroke="#0b0b0b" stroke-width="1.3"/>
<circle cx="631.20" cy="463.70" r="3.7" fill="#2E2C89" stroke="#0b0b0b" stroke-width="1.3"/>
<circle cx="638.40" cy="463.30" r="3.7" fill="#2E2C89" stroke="#0b0b0b" stroke-width="1.3"/>
<circle cx="639.20" cy="460.00" r="3.7" fill="#2E2C89" stroke="#0b0b0b" stroke-width="1.3"/>
<circle cx="645.70" cy="466.00" r="3.7" fill="#2E2C89" stroke="#0b0b0b" stroke-width="1.3"/>
<circle cx="649.70" cy="466.00" r="3.7" fill="#2E2C89" stroke="#0b0b0b" stroke-width="1.3"/>
<circle cx="603.00" cy="466.00" r="3.7" fill="#2E2C89" stroke="#0b0b0b" stroke-width="1.3"/>
<circle cx="610.00" cy="465.00" r="3.7" fill="#2E2C89" stroke="#0b0b0b" stroke-width="1.3"/>
<circle cx="634.50" cy="466.00" r="3.7" fill="#2E2C89" stroke="#0b0b0b" stroke-width="1.3"/>
<circle cx="642.00" cy="465.50" r="3.7" fill="#2E2C89" stroke="#0b0b0b" stroke-width="1.3"/>
<circle cx="655.00" cy="465.00" r="3.7" fill="#2E2C89" stroke="#0b0b0b" stroke-width="1.3"/>
</g>
<line x1="401.80" y1="291.20" x2="401.80" y2="467.00" stroke="#0d0d0d" stroke-width="1.9"/>
<line x1="400.90" y1="466.10" x2="684.50" y2="466.10" stroke="#0d0d0d" stroke-width="1.8"/>
<line x1="454.50" y1="466.10" x2="454.50" y2="470.30" stroke="#111" stroke-width="1.5"/>
<line x1="543.40" y1="466.10" x2="543.40" y2="470.30" stroke="#111" stroke-width="1.5"/>
<line x1="631.80" y1="466.10" x2="631.80" y2="470.30" stroke="#111" stroke-width="1.5"/>
<text x="455.30" y="482.30" font-size="10.7" fill="#1e1e1e" text-anchor="middle" textLength="68.4" lengthAdjust="spacingAndGlyphs">Gulf of Mexico</text>
<text x="543.40" y="482.30" font-size="10.7" fill="#1e1e1e" text-anchor="middle" textLength="48.3" lengthAdjust="spacingAndGlyphs">Black Sea</text>
<text x="631.80" y="482.30" font-size="10.7" fill="#1e1e1e" text-anchor="middle" textLength="59.6" lengthAdjust="spacingAndGlyphs">Angola Gyre</text>
<text x="454.50" y="324.80" font-size="10.5" fill="#1e1e1e" text-anchor="middle" textLength="30.6" lengthAdjust="spacingAndGlyphs">n = 44</text>
<text x="543.70" y="324.80" font-size="10.5" fill="#1e1e1e" text-anchor="middle" textLength="35.4" lengthAdjust="spacingAndGlyphs">n = 245</text>
<text x="631.40" y="324.80" font-size="10.5" fill="#1e1e1e" text-anchor="middle" textLength="29.6" lengthAdjust="spacingAndGlyphs">n = 51</text>
<line x1="454.50" y1="287.90" x2="631.70" y2="287.90" stroke="#161616" stroke-width="1.7"/>
<line x1="543.40" y1="305.90" x2="631.70" y2="305.90" stroke="#161616" stroke-width="1.7"/>
<text x="542.80" y="284.00" font-size="10.5" fill="#1e1e1e" text-anchor="middle" textLength="12.3" lengthAdjust="spacingAndGlyphs">***</text>
<text x="587.70" y="302.20" font-size="10.5" fill="#1e1e1e" text-anchor="middle" textLength="12.3" lengthAdjust="spacingAndGlyphs">***</text>
<text x="357.30" y="376.90" font-size="10.8" fill="#1e1e1e" text-anchor="middle" textLength="67.6" lengthAdjust="spacingAndGlyphs" transform="rotate(-90 357.30 376.90)">Urea (µM–N)</text>
</svg></body></html>
